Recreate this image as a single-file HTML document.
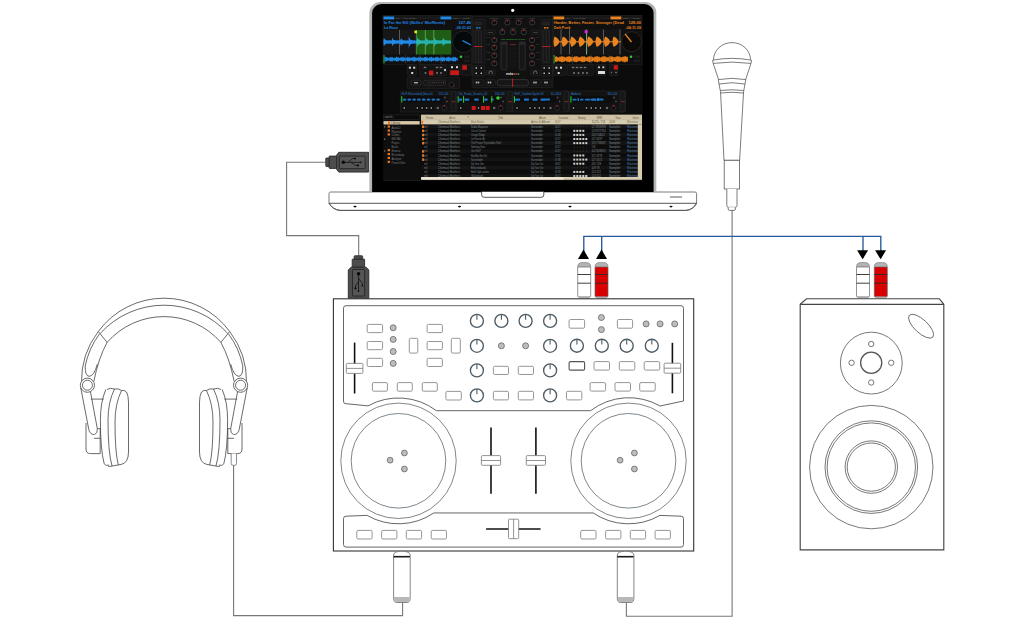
<!DOCTYPE html><html><head><meta charset="utf-8"><style>html,body{margin:0;padding:0;background:#fff;overflow:hidden}svg{display:block}text{font-family:"Liberation Sans",sans-serif}</style></head><body><svg width="1024" height="617" viewBox="0 0 1024 617">
<rect width="1024" height="617" fill="#fff"/>
<path d="M325.5,162.3 H286.6 V235.6 H358.7 V256" fill="none" stroke="#777" stroke-width="1.1"/>
<path d="M368.6,152.3 H338.8 L336.4,155.4 V169 L338.8,172.1 H368.6 Z" fill="#4d4d4d" stroke="#2a2a2a" stroke-width="0.9"/>
<rect x="329" y="156.1" width="7.5" height="12.3" rx="0.8" fill="#4d4d4d" stroke="#2a2a2a" stroke-width="0.9"/>
<rect x="325.8" y="158" width="3.2" height="8.5" rx="0.6" fill="#4d4d4d" stroke="#2a2a2a" stroke-width="0.9"/>
<rect x="339.3" y="156.1" width="25.9" height="12.5" rx="0.8" fill="#555" stroke="#262626" stroke-width="0.9"/>
<g transform="translate(352.25,162.35)"><circle cx="-8.95" cy="0" r="1.75" fill="#0a0a0a"/><path d="M-8.95,0 H8.2 M-4.3,0 L0.6,-3.85 H2.5 M-1.1,0 L3.1,3.05 H5" fill="none" stroke="#0a0a0a" stroke-width="0.7"/><circle cx="8.3" cy="0" r="0.85" fill="#0a0a0a"/><rect x="1.9" y="-4.55" width="1.8" height="1.4" rx="0.3" fill="#0a0a0a"/><circle cx="5.65" cy="3.05" r="1.05" fill="#0a0a0a"/></g>
<path d="M348.3,298.3 V270 L351.3,267 H365.8 L368.8,270 V298.3 Z" fill="#4d4d4d" stroke="#2a2a2a" stroke-width="0.9"/>
<rect x="352.2" y="259" width="12.4" height="8" rx="0.8" fill="#4d4d4d" stroke="#2a2a2a" stroke-width="0.9"/>
<rect x="354.2" y="255.8" width="8.4" height="3.2" rx="0.6" fill="#4d4d4d" stroke="#2a2a2a" stroke-width="0.9"/>
<rect x="352.5" y="269.5" width="12.1" height="26.5" rx="0.8" fill="#555" stroke="#262626" stroke-width="0.9"/>
<g transform="translate(358.55,282.75) rotate(90)"><circle cx="-8.95" cy="0" r="1.75" fill="#0a0a0a"/><path d="M-8.95,0 H8.2 M-4.3,0 L0.6,-3.85 H2.5 M-1.1,0 L3.1,3.05 H5" fill="none" stroke="#0a0a0a" stroke-width="0.7"/><circle cx="8.3" cy="0" r="0.85" fill="#0a0a0a"/><rect x="1.9" y="-4.55" width="1.8" height="1.4" rx="0.3" fill="#0a0a0a"/><circle cx="5.65" cy="3.05" r="1.05" fill="#0a0a0a"/></g>
<path d="M330.5,192 H695 Q696.6,192 696.6,193.6 V203.3 Q693,209.8 686,210.4 H340 Q333,209.8 329,203.3 V193.6 Q329,192 330.5,192 Z" fill="#fff" stroke="#7a7a7a" stroke-width="1"/>
<path d="M696.6,203.3 Q693,209.8 686,210.4 H340 Q333,209.8 329,203.3" fill="none" stroke="#555" stroke-width="1"/>
<line x1="329" y1="203.3" x2="696.6" y2="203.3" stroke="#555" stroke-width="1"/>
<path d="M369.4,192 V13 A11,11 0 0 1 380.4,1.9 H645.3 A11,11 0 0 1 656.3,12.9 V192 Z" fill="#b2b4b5"/>
<path d="M372.1,192 V13.2 A9.2,9.2 0 0 1 381.3,4 H644.4 A9.2,9.2 0 0 1 653.6,13.2 V192 Z" fill="#000"/>
<path d="M481.6,191.8 V194.8 Q481.6,197.3 484.1,197.3 H541.3 Q543.8,197.3 543.8,194.8 V191.8" fill="#fff" stroke="#444" stroke-width="0.9"/>
<line x1="670" y1="197" x2="682" y2="197" stroke="#777" stroke-width="1.2"/>
<ellipse cx="355" cy="206.6" rx="1.6" ry="0.8" fill="#000"/>
<ellipse cx="459.5" cy="206.6" rx="1.6" ry="0.8" fill="#000"/>
<ellipse cx="570" cy="206.6" rx="1.6" ry="0.8" fill="#000"/>
<ellipse cx="671" cy="206.6" rx="1.6" ry="0.8" fill="#000"/>
<circle cx="512.7" cy="10.3" r="1.6" fill="#fff"/>
<rect x="383" y="15" width="259.5" height="166" fill="#0c0c0c"/>
<rect x="383" y="15.6" width="89" height="48.6" fill="#101010" stroke="#262626" stroke-width="0.5"/>
<rect x="383.3" y="16.4" width="88" height="3.1" fill="#1b1b1b"/>
<rect x="383.4" y="16.5" width="10.8" height="2.9" fill="#2089e6"/>
<rect x="440.5" y="16.5" width="10.8" height="2.9" fill="#2089e6"/>
<text x="395.5" y="18.9" font-size="2.2" fill="#666" text-anchor="start" font-weight="normal" opacity="1" textLength="20" lengthAdjust="spacingAndGlyphs">PFL  ---  DISABLED</text>
<text x="452.5" y="18.9" font-size="2.2" fill="#666" text-anchor="start" font-weight="normal" opacity="1" textLength="17" lengthAdjust="spacingAndGlyphs">REV  - CUE</text>
<text x="384" y="23.9" font-size="4.0" fill="#2089e6" text-anchor="start" font-weight="bold" opacity="1" textLength="61" lengthAdjust="spacingAndGlyphs">In For the Kill (Skillex' Mix/Remix)</text>
<text x="471" y="23.9" font-size="4.0" fill="#2089e6" text-anchor="end" font-weight="bold" opacity="1" textLength="12.5" lengthAdjust="spacingAndGlyphs">127.46</text>
<text x="384" y="28.9" font-size="4.0" fill="#2089e6" text-anchor="start" font-weight="bold" opacity="1" textLength="14" lengthAdjust="spacingAndGlyphs">La Roux</text>
<text x="471" y="28.9" font-size="4.0" fill="#2089e6" text-anchor="end" font-weight="bold" opacity="1" textLength="15.5" lengthAdjust="spacingAndGlyphs">-09:31.63</text>
<rect x="553" y="15.6" width="89" height="48.6" fill="#101010" stroke="#262626" stroke-width="0.5"/>
<rect x="553.3" y="16.4" width="88" height="3.1" fill="#1b1b1b"/>
<rect x="553.4" y="16.5" width="10.8" height="2.9" fill="#ea8420"/>
<rect x="610.5" y="16.5" width="10.8" height="2.9" fill="#ea8420"/>
<text x="565.5" y="18.9" font-size="2.2" fill="#666" text-anchor="start" font-weight="normal" opacity="1" textLength="20" lengthAdjust="spacingAndGlyphs">PFL  ---  DISABLED</text>
<text x="622.5" y="18.9" font-size="2.2" fill="#666" text-anchor="start" font-weight="normal" opacity="1" textLength="17" lengthAdjust="spacingAndGlyphs">REV  - CUE</text>
<text x="554" y="23.9" font-size="4.0" fill="#ea8420" text-anchor="start" font-weight="bold" opacity="1" textLength="70" lengthAdjust="spacingAndGlyphs">Harder, Better, Faster, Stronger (Dead</text>
<text x="641" y="23.9" font-size="4.0" fill="#ea8420" text-anchor="end" font-weight="bold" opacity="1" textLength="12.5" lengthAdjust="spacingAndGlyphs">128.00</text>
<text x="554" y="28.9" font-size="4.0" fill="#ea8420" text-anchor="start" font-weight="bold" opacity="1" textLength="16.5" lengthAdjust="spacingAndGlyphs">Daft Punk</text>
<text x="641" y="28.9" font-size="4.0" fill="#ea8420" text-anchor="end" font-weight="bold" opacity="1" textLength="15.5" lengthAdjust="spacingAndGlyphs">-04:11.09</text>
<rect x="383.4" y="30" width="68" height="24.5" fill="#171717"/>
<rect x="416" y="30" width="35.4" height="24.5" fill="#1f5c14"/>
<line x1="399.5" y1="30" x2="399.5" y2="54.5" stroke="#888" stroke-width="0.6"/>
<line x1="416.3" y1="30" x2="416.3" y2="54.5" stroke="#5a5" stroke-width="0.6"/>
<line x1="425.3" y1="30" x2="425.3" y2="54.5" stroke="#8c8" stroke-width="0.6"/>
<line x1="433.8" y1="30" x2="433.8" y2="54.5" stroke="#8c8" stroke-width="0.6"/>
<rect x="414.4" y="30.6" width="2.6" height="2.6" fill="#eaea22"/>
<polygon points="383.4,40.41 383.9,37.73 384.4,38.69 384.9,39.23 385.4,39.66 385.9,40.11 386.4,40.47 386.9,40.26 387.4,40.15 387.9,40.21 388.4,40.44 388.9,40.62 389.4,40.34 389.9,40.20 390.4,40.26 390.9,40.49 391.4,40.59 391.9,40.32 392.4,37.40 392.9,38.66 393.4,39.59 393.9,40.02 394.4,39.99 394.9,40.02 395.4,40.19 395.9,40.49 396.4,40.50 396.9,40.26 397.4,40.19 397.9,40.31 398.4,40.58 398.9,40.50 399.4,40.26 399.9,40.20 400.4,40.34 400.9,37.96 401.4,38.94 401.9,39.37 402.4,39.70 402.9,40.07 403.4,40.48 403.9,40.34 404.4,40.18 404.9,40.18 405.4,40.37 405.9,40.67 406.4,40.41 406.9,40.22 407.4,40.22 407.9,40.41 408.4,40.68 408.9,36.03 409.4,37.70 409.9,38.79 410.4,39.61 410.9,40.17 411.4,40.08 411.9,40.05 412.4,40.16 412.9,40.42 413.4,40.59 413.9,40.32 414.4,40.19 414.9,40.26 415.4,40.50 415.9,40.58 415.9,43.42 415.4,43.50 414.9,43.74 414.4,43.81 413.9,43.68 413.4,43.41 412.9,43.58 412.4,43.84 411.9,43.95 411.4,43.92 410.9,43.83 410.4,44.39 409.9,45.21 409.4,46.30 408.9,47.97 408.4,43.32 407.9,43.59 407.4,43.78 406.9,43.78 406.4,43.59 405.9,43.33 405.4,43.63 404.9,43.82 404.4,43.82 403.9,43.66 403.4,43.52 402.9,43.93 402.4,44.30 401.9,44.63 401.4,45.06 400.9,46.04 400.4,43.66 399.9,43.80 399.4,43.74 398.9,43.50 398.4,43.42 397.9,43.69 397.4,43.81 396.9,43.74 396.4,43.50 395.9,43.51 395.4,43.81 394.9,43.98 394.4,44.01 393.9,43.98 393.4,44.41 392.9,45.34 392.4,46.60 391.9,43.68 391.4,43.41 390.9,43.51 390.4,43.74 389.9,43.80 389.4,43.66 388.9,43.38 388.4,43.56 387.9,43.79 387.4,43.85 386.9,43.74 386.4,43.53 385.9,43.89 385.4,44.34 384.9,44.77 384.4,45.31 383.9,46.27 383.4,43.59" fill="#1f8ae8"/>
<polygon points="416.0,40.57 416.5,40.52 417.0,40.27 417.5,36.51 418.0,38.20 418.5,39.37 419.0,39.78 419.5,39.85 420.0,39.97 420.5,40.21 421.0,40.56 421.5,40.41 422.0,40.22 422.5,40.20 423.0,40.37 423.5,40.66 424.0,40.43 424.5,40.23 425.0,40.22 425.5,40.40 426.0,37.21 426.5,38.38 427.0,39.06 427.5,39.56 428.0,40.04 428.5,40.44 429.0,40.25 429.5,40.14 430.0,40.20 430.5,40.43 431.0,40.62 431.5,40.34 432.0,40.20 432.5,40.26 433.0,40.48 433.5,40.60 434.0,40.33 434.5,36.89 435.0,38.37 435.5,39.42 436.0,39.93 436.5,39.94 437.0,39.99 437.5,40.17 438.0,40.48 438.5,40.50 439.0,40.26 439.5,40.19 440.0,40.31 440.5,40.57 441.0,40.50 441.5,40.27 442.0,40.20 442.5,40.33 443.0,37.48 443.5,38.67 444.0,39.21 444.5,39.61 445.0,40.01 445.5,40.44 446.0,40.33 446.5,40.17 447.0,40.18 447.5,40.36 448.0,40.66 448.5,40.41 449.0,40.22 449.5,40.22 450.0,40.41 450.5,40.69 451.0,40.39 451.0,43.61 450.5,43.31 450.0,43.59 449.5,43.78 449.0,43.78 448.5,43.59 448.0,43.34 447.5,43.64 447.0,43.82 446.5,43.83 446.0,43.67 445.5,43.56 445.0,43.99 444.5,44.39 444.0,44.79 443.5,45.33 443.0,46.52 442.5,43.67 442.0,43.80 441.5,43.73 441.0,43.50 440.5,43.43 440.0,43.69 439.5,43.81 439.0,43.74 438.5,43.50 438.0,43.52 437.5,43.83 437.0,44.01 436.5,44.06 436.0,44.07 435.5,44.58 435.0,45.63 434.5,47.11 434.0,43.67 433.5,43.40 433.0,43.52 432.5,43.74 432.0,43.80 431.5,43.66 431.0,43.38 430.5,43.57 430.0,43.80 429.5,43.86 429.0,43.75 428.5,43.56 428.0,43.96 427.5,44.44 427.0,44.94 426.5,45.62 426.0,46.79 425.5,43.60 425.0,43.78 424.5,43.77 424.0,43.57 423.5,43.34 423.0,43.63 422.5,43.80 422.0,43.78 421.5,43.59 421.0,43.44 420.5,43.79 420.0,44.03 419.5,44.15 419.0,44.22 418.5,44.63 418.0,45.80 417.5,47.49 417.0,43.73 416.5,43.48 416.0,43.43" fill="#27b4b0"/>
<circle cx="463.5" cy="41.8" r="10.8" fill="#06090c" stroke="#2a2a2a" stroke-width="0.8"/>
<line x1="462.5" y1="40.6" x2="471" y2="45" stroke="#1f86e0" stroke-width="1.3"/>
<rect x="383.4" y="55" width="75" height="8.6" fill="#101010"/>
<rect x="383.5" y="55" width="1" height="8.4" fill="#2c2"/>
<polygon points="384.6,57.58 385.1,56.62 385.6,56.75 386.1,57.53 386.6,57.44 387.1,56.75 387.6,57.64 388.1,58.33 388.6,57.89 389.1,57.08 389.6,57.73 390.1,57.67 390.6,56.74 391.1,56.67 391.6,57.49 392.1,57.44 392.6,56.70 393.1,57.45 393.6,58.21 394.1,58.07 394.6,57.16 395.1,57.76 395.6,57.76 396.1,56.87 396.6,56.61 397.1,57.45 397.6,57.45 398.1,56.68 398.6,57.26 399.1,58.10 399.6,58.04 400.1,57.26 400.6,57.79 401.1,57.86 401.6,57.03 402.1,56.57 402.6,57.41 403.1,57.46 403.6,56.68 404.1,57.08 404.6,57.99 405.1,58.00 405.6,57.38 406.1,57.82 406.6,57.95 407.1,57.19 407.6,56.56 408.1,57.38 408.6,57.47 409.1,56.70 409.6,56.91 410.1,57.88 410.6,57.96 411.1,57.34 411.6,57.84 412.1,58.06 412.6,57.37 413.1,56.58 413.6,57.35 414.1,57.48 414.6,56.75 415.1,56.76 415.6,57.77 416.1,57.91 416.6,57.27 417.1,57.86 417.6,58.16 418.1,57.55 418.6,56.62 419.1,57.31 419.6,57.50 420.1,56.82 420.6,56.64 421.1,57.66 421.6,57.85 422.1,57.21 422.6,57.79 423.1,58.27 423.6,57.73 424.1,56.70 424.6,57.29 425.1,57.53 425.6,56.90 426.1,56.53 426.6,57.55 427.1,57.80 427.6,57.17 428.1,57.58 428.6,58.38 429.1,57.91 429.6,56.80 430.1,57.26 430.6,57.56 431.1,57.00 431.6,56.46 432.1,57.44 432.6,57.74 433.1,57.15 433.6,57.38 434.1,58.46 434.6,58.08 435.1,56.93 435.6,57.25 436.1,57.61 436.6,57.11 437.1,56.41 437.6,57.33 438.1,57.68 438.6,57.14 439.1,57.19 439.6,58.32 440.1,58.25 440.6,57.08 441.1,57.24 441.6,57.67 442.1,57.22 442.6,56.40 443.1,57.22 443.6,57.62 444.1,57.15 444.6,57.02 445.1,58.17 445.6,58.40 446.1,57.26 446.6,57.23 447.1,57.73 447.6,57.34 448.1,56.42 448.6,57.12 449.1,57.57 449.6,57.17 450.1,56.87 450.6,58.01 451.1,58.38 451.6,57.45 452.1,57.25 452.6,57.80 453.1,57.47 453.6,56.47 454.1,57.02 454.6,57.54 455.1,57.19 455.6,56.74 456.1,57.84 456.6,58.29 457.1,57.65 457.6,57.27 457.6,61.13 457.1,60.75 456.6,60.11 456.1,60.56 455.6,61.66 455.1,61.21 454.6,60.86 454.1,61.38 453.6,61.93 453.1,60.93 452.6,60.60 452.1,61.15 451.6,60.95 451.1,60.02 450.6,60.39 450.1,61.53 449.6,61.23 449.1,60.83 448.6,61.28 448.1,61.98 447.6,61.06 447.1,60.67 446.6,61.17 446.1,61.14 445.6,60.00 445.1,60.23 444.6,61.38 444.1,61.25 443.6,60.78 443.1,61.18 442.6,62.00 442.1,61.18 441.6,60.73 441.1,61.16 440.6,61.32 440.1,60.15 439.6,60.08 439.1,61.21 438.6,61.26 438.1,60.72 437.6,61.07 437.1,61.99 436.6,61.29 436.1,60.79 435.6,61.15 435.1,61.47 434.6,60.32 434.1,59.94 433.6,61.02 433.1,61.25 432.6,60.66 432.1,60.96 431.6,61.94 431.1,61.40 430.6,60.84 430.1,61.14 429.6,61.60 429.1,60.49 428.6,60.02 428.1,60.82 427.6,61.23 427.1,60.60 426.6,60.85 426.1,61.87 425.6,61.50 425.1,60.87 424.6,61.11 424.1,61.70 423.6,60.67 423.1,60.13 422.6,60.61 422.1,61.19 421.6,60.55 421.1,60.74 420.6,61.76 420.1,61.58 419.6,60.90 419.1,61.09 418.6,61.78 418.1,60.85 417.6,60.24 417.1,60.54 416.6,61.13 416.1,60.49 415.6,60.63 415.1,61.64 414.6,61.65 414.1,60.92 413.6,61.05 413.1,61.82 412.6,61.03 412.1,60.34 411.6,60.56 411.1,61.06 410.6,60.44 410.1,60.52 409.6,61.49 409.1,61.70 408.6,60.93 408.1,61.02 407.6,61.84 407.1,61.21 406.6,60.45 406.1,60.58 405.6,61.02 405.1,60.40 404.6,60.41 404.1,61.32 403.6,61.72 403.1,60.94 402.6,60.99 402.1,61.83 401.6,61.37 401.1,60.54 400.6,60.61 400.1,61.14 399.6,60.36 399.1,60.30 398.6,61.14 398.1,61.72 397.6,60.95 397.1,60.95 396.6,61.79 396.1,61.53 395.6,60.64 395.1,60.64 394.6,61.24 394.1,60.33 393.6,60.19 393.1,60.95 392.6,61.70 392.1,60.96 391.6,60.91 391.1,61.73 390.6,61.66 390.1,60.73 389.6,60.67 389.1,61.32 388.6,60.51 388.1,60.07 387.6,60.76 387.1,61.65 386.6,60.96 386.1,60.87 385.6,61.65 385.1,61.78 384.6,60.82" fill="#1f86e0"/>
<line x1="405.5" y1="55" x2="405.5" y2="63.5" stroke="#555" stroke-width="0.5"/>
<line x1="420" y1="55" x2="420" y2="63.5" stroke="#555" stroke-width="0.5"/>
<line x1="441" y1="55" x2="441" y2="63.5" stroke="#555" stroke-width="0.5"/>
<circle cx="461" cy="56.8" r="1.3" fill="#3c3"/>
<circle cx="465.5" cy="56.8" r="1" fill="none" stroke="#3a3a3a" stroke-width="0.4"/>
<circle cx="468.5" cy="56.8" r="1" fill="none" stroke="#3a3a3a" stroke-width="0.4"/>
<circle cx="465.5" cy="60.8" r="1" fill="none" stroke="#3a3a3a" stroke-width="0.4"/>
<circle cx="468.5" cy="60.8" r="1" fill="none" stroke="#3a3a3a" stroke-width="0.4"/>
<rect x="553.4" y="29.5" width="68" height="25" fill="#151515"/>
<line x1="561" y1="29.5" x2="561" y2="54.5" stroke="#7a7a7a" stroke-width="0.7"/>
<line x1="569.5" y1="29.5" x2="569.5" y2="54.5" stroke="#7a7a7a" stroke-width="0.7"/>
<line x1="603.5" y1="29.5" x2="603.5" y2="54.5" stroke="#7a7a7a" stroke-width="0.7"/>
<line x1="620" y1="29.5" x2="620" y2="54.5" stroke="#7a7a7a" stroke-width="0.7"/>
<line x1="586.6" y1="29.5" x2="586.6" y2="54.5" stroke="#8c8" stroke-width="0.9"/>
<rect x="584.6" y="30.2" width="3" height="3" fill="#e222e2"/>
<polygon points="553.4,41.20 553.9,37.88 554.4,36.76 554.9,36.62 555.4,36.92 555.9,37.24 556.4,37.58 556.9,37.95 557.4,38.36 557.9,38.83 558.4,39.38 558.9,40.14 559.4,41.20 559.9,41.20 560.4,41.20 560.9,41.20 561.4,41.20 561.9,40.10 562.4,37.74 562.9,36.67 563.4,36.65 563.9,36.95 564.4,37.27 564.9,37.62 565.4,37.99 565.9,38.41 566.4,38.88 566.9,39.45 567.4,40.24 567.9,41.20 568.4,41.20 568.9,41.20 569.4,41.20 569.9,41.20 570.4,39.66 570.9,37.60 571.4,36.59 571.9,36.68 572.4,36.98 572.9,37.31 573.4,37.65 573.9,38.03 574.4,38.45 574.9,38.93 575.4,39.51 575.9,40.35 576.4,41.20 576.9,41.20 577.4,41.20 577.9,41.20 578.4,41.20 578.9,39.32 579.4,37.48 579.9,36.52 580.4,36.71 580.9,37.01 581.4,37.34 581.9,37.69 582.4,38.07 582.9,38.50 583.4,38.98 583.9,39.58 584.4,40.48 584.9,41.20 585.4,41.20 585.9,41.20 586.4,41.20 586.9,41.20 587.4,39.04 587.9,37.36 588.4,36.45 588.9,36.74 589.4,37.05 589.9,37.37 590.4,37.73 590.9,38.11 591.4,38.54 591.9,39.04 592.4,39.65 592.9,40.62 593.4,41.20 593.9,41.20 594.4,41.20 594.9,41.20 595.4,41.20 595.9,38.79 596.4,37.24 596.9,36.47 597.4,36.77 597.9,37.08 598.4,37.41 598.9,37.76 599.4,38.15 599.9,38.59 600.4,39.09 600.9,39.72 601.4,40.80 601.9,41.20 602.4,41.20 602.9,41.20 603.4,41.20 603.9,41.20 604.4,38.58 604.9,37.14 605.4,36.50 605.9,36.80 606.4,37.11 606.9,37.44 607.4,37.80 607.9,38.19 608.4,38.63 608.9,39.15 609.4,39.80 609.9,41.20 610.4,41.20 610.9,41.20 611.4,41.20 611.9,41.20 612.4,41.20 612.9,38.38 613.4,37.03 613.9,36.53 614.4,36.83 614.9,37.14 615.4,37.48 615.9,37.84 616.4,38.23 616.9,38.68 617.4,39.20 617.9,39.88 618.4,41.20 618.9,41.20 619.4,41.20 619.9,41.20 620.4,41.20 620.9,41.20 620.9,42.20 620.4,42.20 619.9,42.20 619.4,42.20 618.9,42.20 618.4,42.20 617.9,43.52 617.4,44.20 616.9,44.72 616.4,45.17 615.9,45.56 615.4,45.92 614.9,46.26 614.4,46.57 613.9,46.87 613.4,46.37 612.9,45.02 612.4,42.20 611.9,42.20 611.4,42.20 610.9,42.20 610.4,42.20 609.9,42.20 609.4,43.60 608.9,44.25 608.4,44.77 607.9,45.21 607.4,45.60 606.9,45.96 606.4,46.29 605.9,46.60 605.4,46.90 604.9,46.26 604.4,44.82 603.9,42.20 603.4,42.20 602.9,42.20 602.4,42.20 601.9,42.20 601.4,42.60 600.9,43.68 600.4,44.31 599.9,44.81 599.4,45.25 598.9,45.64 598.4,45.99 597.9,46.32 597.4,46.63 596.9,46.93 596.4,46.16 595.9,44.61 595.4,42.20 594.9,42.20 594.4,42.20 593.9,42.20 593.4,42.20 592.9,42.78 592.4,43.75 591.9,44.36 591.4,44.86 590.9,45.29 590.4,45.67 589.9,46.03 589.4,46.35 588.9,46.66 588.4,46.95 587.9,46.04 587.4,44.36 586.9,42.20 586.4,42.20 585.9,42.20 585.4,42.20 584.9,42.20 584.4,42.92 583.9,43.82 583.4,44.42 582.9,44.90 582.4,45.33 581.9,45.71 581.4,46.06 580.9,46.39 580.4,46.69 579.9,46.88 579.4,45.92 578.9,44.08 578.4,42.20 577.9,42.20 577.4,42.20 576.9,42.20 576.4,42.20 575.9,43.05 575.4,43.89 574.9,44.47 574.4,44.95 573.9,45.37 573.4,45.75 572.9,46.09 572.4,46.42 571.9,46.72 571.4,46.81 570.9,45.80 570.4,43.74 569.9,42.20 569.4,42.20 568.9,42.20 568.4,42.20 567.9,42.20 567.4,43.16 566.9,43.95 566.4,44.52 565.9,44.99 565.4,45.41 564.9,45.78 564.4,46.13 563.9,46.45 563.4,46.75 562.9,46.73 562.4,45.66 561.9,43.30 561.4,42.20 560.9,42.20 560.4,42.20 559.9,42.20 559.4,42.20 558.9,43.26 558.4,44.02 557.9,44.57 557.4,45.04 556.9,45.45 556.4,45.82 555.9,46.16 555.4,46.48 554.9,46.78 554.4,46.64 553.9,45.52 553.4,42.20" fill="#ea8420"/>
<circle cx="631.5" cy="41.7" r="10" fill="#0c0a07" stroke="#2b2b2b" stroke-width="0.8"/>
<line x1="625" y1="33.8" x2="631.5" y2="42" stroke="#ea8420" stroke-width="1.3"/>
<rect x="553.4" y="55" width="75" height="8.6" fill="#101010"/>
<rect x="553.6" y="55" width="1" height="8.4" fill="#2c2"/>
<polygon points="555.0,56.03 555.5,56.81 556.0,56.38 556.5,56.10 557.0,57.08 557.5,57.22 558.0,56.74 558.5,57.57 559.0,57.68 559.5,56.62 560.0,56.54 560.5,57.06 561.0,56.30 561.5,55.91 562.0,56.69 562.5,56.50 563.0,55.92 563.5,56.71 564.0,57.16 564.5,56.57 565.0,57.10 565.5,57.99 566.0,57.04 566.5,56.59 567.0,57.18 567.5,56.66 568.0,55.92 568.5,56.55 569.0,56.65 569.5,55.88 570.0,56.36 570.5,57.06 571.0,56.51 571.5,56.67 572.0,57.71 572.5,57.51 573.0,56.73 573.5,57.25 574.0,57.03 574.5,56.07 575.0,56.42 575.5,56.79 576.0,55.99 576.5,56.07 577.0,56.92 577.5,56.53 578.0,56.32 578.5,57.35 579.0,57.49 579.5,56.98 580.0,57.29 580.5,57.39 581.0,56.36 581.5,56.34 582.0,56.90 582.5,56.20 583.0,55.88 583.5,56.73 584.0,56.60 584.5,56.08 585.0,56.94 585.5,57.41 586.0,56.85 586.5,57.33 587.0,57.69 587.5,56.75 588.0,56.35 588.5,56.97 589.0,56.49 589.5,55.83 590.0,56.53 590.5,56.69 591.0,55.99 591.5,56.54 592.0,57.28 592.5,56.76 593.0,56.96 593.5,57.92 594.0,57.20 594.5,56.46 595.0,57.01 595.5,56.82 596.0,55.92 596.5,56.34 597.0,56.77 597.5,56.02 598.0,56.19 598.5,57.09 599.0,56.74 599.5,56.58 600.0,57.64 600.5,57.67 601.0,56.68 601.5,57.02 602.0,57.14 602.5,56.15 603.0,56.20 603.5,56.82 604.0,56.17 604.5,55.93 605.0,56.85 605.5,56.76 606.0,56.30 606.5,57.21 607.0,57.69 607.5,57.01 608.0,57.05 608.5,57.42 609.0,56.50 609.5,56.15 610.0,56.83 610.5,56.40 611.0,55.81 611.5,56.58 612.0,56.79 612.5,56.15 613.0,56.77 613.5,57.54 614.0,57.04 614.5,57.11 615.0,57.63 615.5,56.92 616.0,56.22 616.5,56.81 617.0,56.67 617.5,55.83 618.0,56.33 618.5,56.81 619.0,56.13 619.5,56.37 620.0,57.31 620.5,56.99 621.0,56.87 621.5,57.77 622.0,57.36 622.5,56.40 623.0,56.79 623.5,56.94 624.0,56.00 624.5,56.13 625.0,56.80 625.5,56.21 626.0,56.05 626.5,57.03 627.0,56.98 627.5,56.57 628.0,57.50 628.0,60.90 627.5,61.83 627.0,61.42 626.5,61.37 626.0,62.35 625.5,62.19 625.0,61.60 624.5,62.27 624.0,62.40 623.5,61.46 623.0,61.61 622.5,62.00 622.0,61.04 621.5,60.63 621.0,61.53 620.5,61.41 620.0,61.09 619.5,62.03 619.0,62.27 618.5,61.59 618.0,62.07 617.5,62.57 617.0,61.73 616.5,61.59 616.0,62.18 615.5,61.48 615.0,60.77 614.5,61.29 614.0,61.36 613.5,60.86 613.0,61.63 612.5,62.25 612.0,61.61 611.5,61.82 611.0,62.59 610.5,62.00 610.0,61.57 609.5,62.25 609.0,61.90 608.5,60.98 608.0,61.35 607.5,61.39 607.0,60.71 606.5,61.19 606.0,62.10 605.5,61.64 605.0,61.55 604.5,62.47 604.0,62.23 603.5,61.58 603.0,62.20 602.5,62.25 602.0,61.26 601.5,61.38 601.0,61.72 600.5,60.73 600.0,60.76 599.5,61.82 599.0,61.66 598.5,61.31 598.0,62.21 597.5,62.38 597.0,61.63 596.5,62.06 596.0,62.48 595.5,61.58 595.0,61.39 594.5,61.94 594.0,61.20 593.5,60.48 593.0,61.44 592.5,61.64 592.0,61.12 591.5,61.86 591.0,62.41 590.5,61.71 590.0,61.87 589.5,62.57 589.0,61.91 588.5,61.43 588.0,62.05 587.5,61.65 587.0,60.71 586.5,61.07 586.0,61.55 585.5,60.99 585.0,61.46 584.5,62.32 584.0,61.80 583.5,61.67 583.0,62.52 582.5,62.20 582.0,61.50 581.5,62.06 581.0,62.04 580.5,61.01 580.0,61.11 579.5,61.42 579.0,60.91 578.5,61.05 578.0,62.08 577.5,61.87 577.0,61.48 576.5,62.33 576.0,62.41 575.5,61.61 575.0,61.98 574.5,62.33 574.0,61.37 573.5,61.15 573.0,61.67 572.5,60.89 572.0,60.69 571.5,61.73 571.0,61.89 570.5,61.34 570.0,62.04 569.5,62.52 569.0,61.75 568.5,61.85 568.0,62.48 567.5,61.74 567.0,61.22 566.5,61.81 566.0,61.36 565.5,60.41 565.0,61.30 564.5,61.83 564.0,61.24 563.5,61.69 563.0,62.48 562.5,61.90 562.0,61.71 561.5,62.49 561.0,62.10 560.5,61.34 560.0,61.86 559.5,61.78 559.0,60.72 558.5,60.83 558.0,61.66 557.5,61.18 557.0,61.32 556.5,62.30 556.0,62.02 555.5,61.59 555.0,62.37" fill="#e07a18"/>
<line x1="572.5" y1="55" x2="572.5" y2="63.5" stroke="#555" stroke-width="0.5"/>
<line x1="591" y1="55" x2="591" y2="63.5" stroke="#555" stroke-width="0.5"/>
<line x1="610" y1="55" x2="610" y2="63.5" stroke="#555" stroke-width="0.5"/>
<circle cx="631" cy="56.8" r="1.3" fill="#3c3"/>
<circle cx="635.5" cy="56.8" r="1" fill="none" stroke="#3a3a3a" stroke-width="0.4"/>
<circle cx="638.5" cy="56.8" r="1" fill="none" stroke="#3a3a3a" stroke-width="0.4"/>
<circle cx="635.5" cy="60.8" r="1" fill="none" stroke="#3a3a3a" stroke-width="0.4"/>
<circle cx="638.5" cy="60.8" r="1" fill="none" stroke="#3a3a3a" stroke-width="0.4"/>
<rect x="472.2" y="16.1" width="80.6" height="71.6" rx="1.5" fill="#111" stroke="#2e2e2e" stroke-width="0.6"/>
<rect x="473.3" y="19.5" width="11.5" height="43.5" rx="1" fill="#141414" stroke="#2c2c2c" stroke-width="0.5"/>
<rect x="475.1" y="22" width="6.5" height="2.9" rx="0.5" fill="#1e1e1e" stroke="#444" stroke-width="0.3"/>
<rect x="475.3" y="26.6" width="6" height="2.4" fill="#1a1a1a"/>
<rect x="476.1" y="27.1" width="1.8" height="1.4" fill="#2089e6"/>
<rect x="478.7" y="27.1" width="1.8" height="1.4" fill="#2089e6"/>
<rect x="475.3" y="30" width="6" height="32" rx="0.6" fill="#171717" stroke="#3a3a3a" stroke-width="0.5"/>
<rect x="477.90000000000003" y="31" width="0.8" height="30" fill="#2a2a2a"/>
<rect x="474.1" y="46" width="8.5" height="1" fill="#a22"/>
<rect x="473.5" y="65.5" width="11.100000000000023" height="10.5" rx="1.2" fill="#141414" stroke="#2c2c2c" stroke-width="0.5"/>
<circle cx="476.3" cy="68" r="1.6" fill="#0a0a0a"/>
<rect x="475.55" y="67.25" width="1.5" height="1.5" fill="#ccc"/>
<circle cx="481.3" cy="68" r="1.6" fill="#0a0a0a"/>
<rect x="480.55" y="67.25" width="1.5" height="1.5" fill="#ccc"/>
<circle cx="476.3" cy="73.3" r="1.6" fill="#0a0a0a"/>
<rect x="475.55" y="72.55" width="1.5" height="1.5" fill="#ccc"/>
<circle cx="481.3" cy="73.3" r="1.6" fill="#0a0a0a"/>
<rect x="480.55" y="72.55" width="1.5" height="1.5" fill="#ccc"/>
<rect x="473.5" y="79.4" width="10.300000000000011" height="6.299999999999997" rx="1.2" fill="#141414" stroke="#2c2c2c" stroke-width="0.5"/>
<rect x="541.2" y="19.5" width="11.5" height="43.5" rx="1" fill="#141414" stroke="#2c2c2c" stroke-width="0.5"/>
<rect x="543.0" y="22" width="6.5" height="2.9" rx="0.5" fill="#1e1e1e" stroke="#444" stroke-width="0.3"/>
<rect x="543.2" y="26.6" width="6" height="2.4" fill="#1a1a1a"/>
<rect x="544.0" y="27.1" width="1.8" height="1.4" fill="#ea8420"/>
<rect x="546.6" y="27.1" width="1.8" height="1.4" fill="#ea8420"/>
<rect x="543.2" y="30" width="6" height="32" rx="0.6" fill="#171717" stroke="#3a3a3a" stroke-width="0.5"/>
<rect x="545.8000000000001" y="31" width="0.8" height="30" fill="#2a2a2a"/>
<rect x="542.0" y="46" width="8.5" height="1" fill="#a22"/>
<rect x="541.4000000000001" y="65.5" width="11.099999999999909" height="10.5" rx="1.2" fill="#141414" stroke="#2c2c2c" stroke-width="0.5"/>
<circle cx="544.2" cy="68" r="1.6" fill="#0a0a0a"/>
<rect x="543.45" y="67.25" width="1.5" height="1.5" fill="#ccc"/>
<circle cx="549.2" cy="68" r="1.6" fill="#0a0a0a"/>
<rect x="548.45" y="67.25" width="1.5" height="1.5" fill="#ccc"/>
<circle cx="544.2" cy="73.3" r="1.6" fill="#0a0a0a"/>
<rect x="543.45" y="72.55" width="1.5" height="1.5" fill="#ccc"/>
<circle cx="549.2" cy="73.3" r="1.6" fill="#0a0a0a"/>
<rect x="548.45" y="72.55" width="1.5" height="1.5" fill="#ccc"/>
<rect x="541.4000000000001" y="79.4" width="10.299999999999955" height="6.299999999999997" rx="1.2" fill="#141414" stroke="#2c2c2c" stroke-width="0.5"/>
<circle cx="494.4" cy="22.4" r="2.6" fill="#0b0b0b" stroke="#555" stroke-width="0.6"/>
<circle cx="494.4" cy="20.9" r="0.75" fill="#e02020"/>
<circle cx="507.4" cy="22.4" r="2.6" fill="#0b0b0b" stroke="#555" stroke-width="0.6"/>
<circle cx="507.4" cy="20.9" r="0.75" fill="#e02020"/>
<circle cx="518.6" cy="22.4" r="2.6" fill="#0b0b0b" stroke="#555" stroke-width="0.6"/>
<circle cx="518.6" cy="20.9" r="0.75" fill="#e02020"/>
<circle cx="532.2" cy="22.4" r="2.6" fill="#0b0b0b" stroke="#555" stroke-width="0.6"/>
<circle cx="532.2" cy="20.9" r="0.75" fill="#e02020"/>
<circle cx="502.4" cy="32.1" r="2.6" fill="#0b0b0b" stroke="#555" stroke-width="0.6"/>
<circle cx="502.4" cy="30.6" r="0.75" fill="#e02020"/>
<circle cx="513" cy="32.1" r="2.6" fill="#0b0b0b" stroke="#555" stroke-width="0.6"/>
<circle cx="513" cy="30.6" r="0.75" fill="#e02020"/>
<circle cx="523.8" cy="32.1" r="2.6" fill="#0b0b0b" stroke="#555" stroke-width="0.6"/>
<circle cx="523.8" cy="30.6" r="0.75" fill="#e02020"/>
<circle cx="494.3" cy="40" r="2.6" fill="#0b0b0b" stroke="#555" stroke-width="0.6"/>
<circle cx="494.3" cy="38.5" r="0.75" fill="#e02020"/>
<circle cx="494.3" cy="47.6" r="2.6" fill="#0b0b0b" stroke="#555" stroke-width="0.6"/>
<circle cx="494.3" cy="46.1" r="0.75" fill="#e02020"/>
<circle cx="494.3" cy="55.5" r="2.6" fill="#0b0b0b" stroke="#555" stroke-width="0.6"/>
<circle cx="494.3" cy="54.0" r="0.75" fill="#e02020"/>
<circle cx="494.3" cy="63.4" r="2.6" fill="#0b0b0b" stroke="#555" stroke-width="0.6"/>
<circle cx="494.3" cy="61.9" r="0.75" fill="#e02020"/>
<circle cx="532" cy="40" r="2.6" fill="#0b0b0b" stroke="#555" stroke-width="0.6"/>
<circle cx="532" cy="38.5" r="0.75" fill="#e02020"/>
<circle cx="532" cy="47.6" r="2.6" fill="#0b0b0b" stroke="#555" stroke-width="0.6"/>
<circle cx="532" cy="46.1" r="0.75" fill="#e02020"/>
<circle cx="532" cy="55.5" r="2.6" fill="#0b0b0b" stroke="#555" stroke-width="0.6"/>
<circle cx="532" cy="54.0" r="0.75" fill="#e02020"/>
<circle cx="532" cy="63.4" r="2.6" fill="#0b0b0b" stroke="#555" stroke-width="0.6"/>
<circle cx="532" cy="61.9" r="0.75" fill="#e02020"/>
<rect x="486" y="30" width="9.199999999999989" height="4.600000000000001" rx="1.2" fill="#141414" stroke="#2c2c2c" stroke-width="0.5"/>
<rect x="530.9" y="30" width="9.300000000000068" height="4.600000000000001" rx="1.2" fill="#141414" stroke="#2c2c2c" stroke-width="0.5"/>
<text x="490.6" y="33.3" font-size="2.4" fill="#bbb" text-anchor="middle" font-weight="normal" opacity="1" textLength="4.5" lengthAdjust="spacingAndGlyphs">X/X</text>
<text x="535.5" y="33.3" font-size="2.4" fill="#bbb" text-anchor="middle" font-weight="normal" opacity="1" textLength="4.5" lengthAdjust="spacingAndGlyphs">X/X</text>
<text x="494" y="18.8" font-size="1.9" fill="#666" text-anchor="middle" font-weight="normal" opacity="1" textLength="9" lengthAdjust="spacingAndGlyphs">BASS  MID</text>
<text x="507.5" y="18.8" font-size="1.9" fill="#666" text-anchor="middle" font-weight="normal" opacity="1" textLength="7" lengthAdjust="spacingAndGlyphs">HIGH PFL</text>
<text x="519" y="18.8" font-size="1.9" fill="#666" text-anchor="middle" font-weight="normal" opacity="1" textLength="7" lengthAdjust="spacingAndGlyphs">BALANCE</text>
<text x="532" y="18.8" font-size="1.9" fill="#666" text-anchor="middle" font-weight="normal" opacity="1" textLength="6" lengthAdjust="spacingAndGlyphs">Ch EQ</text>
<text x="502.4" y="28.5" font-size="1.9" fill="#666" text-anchor="middle" font-weight="normal" opacity="1" textLength="3" lengthAdjust="spacingAndGlyphs">PFL</text>
<text x="513" y="28.5" font-size="1.9" fill="#666" text-anchor="middle" font-weight="normal" opacity="1" textLength="5" lengthAdjust="spacingAndGlyphs">MASTER</text>
<text x="523.8" y="28.5" font-size="1.9" fill="#666" text-anchor="middle" font-weight="normal" opacity="1" textLength="5" lengthAdjust="spacingAndGlyphs">HD MIX</text>
<text x="488.5" y="37.5" font-size="1.7" fill="#555" text-anchor="middle" font-weight="normal" opacity="1" textLength="4" lengthAdjust="spacingAndGlyphs">GAIN</text>
<text x="488.5" y="45" font-size="1.7" fill="#555" text-anchor="middle" font-weight="normal" opacity="1" textLength="4" lengthAdjust="spacingAndGlyphs">HIGH</text>
<text x="488.5" y="52.5" font-size="1.7" fill="#555" text-anchor="middle" font-weight="normal" opacity="1" textLength="4" lengthAdjust="spacingAndGlyphs">MID</text>
<text x="488.5" y="60" font-size="1.7" fill="#555" text-anchor="middle" font-weight="normal" opacity="1" textLength="4" lengthAdjust="spacingAndGlyphs">LOW</text>
<text x="537.5" y="37.5" font-size="1.7" fill="#555" text-anchor="middle" font-weight="normal" opacity="1" textLength="4" lengthAdjust="spacingAndGlyphs">GAIN</text>
<text x="537.5" y="45" font-size="1.7" fill="#555" text-anchor="middle" font-weight="normal" opacity="1" textLength="4" lengthAdjust="spacingAndGlyphs">HIGH</text>
<text x="537.5" y="52.5" font-size="1.7" fill="#555" text-anchor="middle" font-weight="normal" opacity="1" textLength="4" lengthAdjust="spacingAndGlyphs">MID</text>
<text x="537.5" y="60" font-size="1.7" fill="#555" text-anchor="middle" font-weight="normal" opacity="1" textLength="4" lengthAdjust="spacingAndGlyphs">LOW</text>
<text x="513" y="40" font-size="2.3" fill="#39c639" text-anchor="middle" font-weight="normal" opacity="1" textLength="24" lengthAdjust="spacingAndGlyphs">ooo ooooo oo o ooo</text>
<rect x="501" y="42" width="6" height="27.7" rx="1" fill="#161616" stroke="#444" stroke-width="0.5"/>
<rect x="500.5" y="42.3" width="7" height="2.5" rx="0.5" fill="#2a2a2a"/>
<rect x="519.2" y="42" width="6" height="27.7" rx="1" fill="#161616" stroke="#444" stroke-width="0.5"/>
<rect x="518.7" y="42.3" width="7" height="2.5" rx="0.5" fill="#2a2a2a"/>
<rect x="508.5" y="43" width="9" height="26" fill="#131313"/>
<line x1="509.5" y1="45" x2="516.5" y2="45" stroke="#222" stroke-width="0.4"/>
<line x1="509.5" y1="49" x2="516.5" y2="49" stroke="#222" stroke-width="0.4"/>
<line x1="509.5" y1="53" x2="516.5" y2="53" stroke="#222" stroke-width="0.4"/>
<line x1="509.5" y1="57" x2="516.5" y2="57" stroke="#222" stroke-width="0.4"/>
<line x1="509.5" y1="61" x2="516.5" y2="61" stroke="#222" stroke-width="0.4"/>
<line x1="509.5" y1="65" x2="516.5" y2="65" stroke="#222" stroke-width="0.4"/>
<rect x="510" y="44" width="6" height="0.8" fill="#822"/>
<rect x="486" y="70.2" width="9.399999999999977" height="5.0" rx="1.2" fill="#141414" stroke="#2c2c2c" stroke-width="0.5"/>
<rect x="530.6" y="70.2" width="9.399999999999977" height="5.0" rx="1.2" fill="#141414" stroke="#2c2c2c" stroke-width="0.5"/>
<text x="506" y="75.2" font-size="3.4" fill="#e8e8e8" text-anchor="start" font-weight="bold" opacity="1" textLength="7.5" lengthAdjust="spacingAndGlyphs">mix</text>
<text x="513.5" y="75.2" font-size="3.4" fill="#e07020" text-anchor="start" font-weight="bold" opacity="1" textLength="2" lengthAdjust="spacingAndGlyphs">x</text>
<text x="515.5" y="75.2" font-size="3.4" fill="#c040c0" text-anchor="start" font-weight="bold" opacity="1" textLength="2" lengthAdjust="spacingAndGlyphs">x</text>
<text x="517.5" y="75.2" font-size="3.4" fill="#40c040" text-anchor="start" font-weight="bold" opacity="1" textLength="2" lengthAdjust="spacingAndGlyphs">x</text>
<path d="M489.09999999999997,74 V72.6 A1.6,1.6 0 0 1 492.3,72.6 V74" fill="none" stroke="#bbb" stroke-width="0.5"/>
<path d="M533.6999999999999,74 V72.6 A1.6,1.6 0 0 1 536.9,72.6 V74" fill="none" stroke="#bbb" stroke-width="0.5"/>
<rect x="486" y="79.4" width="9.5" height="6.299999999999997" rx="1.2" fill="#141414" stroke="#2c2c2c" stroke-width="0.5"/>
<rect x="531" y="79.4" width="9.299999999999955" height="6.299999999999997" rx="1.2" fill="#141414" stroke="#2c2c2c" stroke-width="0.5"/>
<rect x="497.3" y="79.6" width="31.1" height="6.2" rx="2" fill="#161616" stroke="#444" stroke-width="0.6"/>
<rect x="512.2" y="78.5" width="0.9" height="8.4" fill="#c22"/>
<rect x="475.75" y="81.6" width="1.5" height="1.8" fill="#bbb"/>
<rect x="477.75" y="81.6" width="1.5" height="1.8" fill="#bbb"/>
<rect x="487.75" y="81.6" width="1.5" height="1.8" fill="#bbb"/>
<rect x="489.75" y="81.6" width="1.5" height="1.8" fill="#bbb"/>
<rect x="533.25" y="81.6" width="1.5" height="1.8" fill="#bbb"/>
<rect x="535.25" y="81.6" width="1.5" height="1.8" fill="#bbb"/>
<rect x="544.25" y="81.6" width="1.5" height="1.8" fill="#bbb"/>
<rect x="546.25" y="81.6" width="1.5" height="1.8" fill="#bbb"/>
<rect x="407.3" y="64.8" width="9.5" height="10.600000000000009" rx="1.2" fill="#141414" stroke="#2c2c2c" stroke-width="0.5"/>
<rect x="408.9" y="66.7" width="2" height="2" fill="#d8d8d8"/>
<rect x="413.2" y="66.7" width="2" height="2" fill="#d8d8d8"/>
<rect x="411.2" y="72.0" width="2" height="2" fill="#d8d8d8"/>
<rect x="419.4" y="64.8" width="27.5" height="10.600000000000009" rx="1.2" fill="#141414" stroke="#2c2c2c" stroke-width="0.5"/>
<rect x="428.9" y="70.6" width="4.4" height="4.6" fill="#c81818"/>
<rect x="423.75" y="66.8" width="2.5" height="1.4" fill="#777"/>
<rect x="435.75" y="66.8" width="2.5" height="1.4" fill="#777"/>
<rect x="439.75" y="66.8" width="2.5" height="1.4" fill="#777"/>
<rect x="424.7" y="72.2" width="1.6" height="1.6" fill="#888"/>
<rect x="436.2" y="72.2" width="1.6" height="1.6" fill="#888"/>
<rect x="440.2" y="72.2" width="1.6" height="1.6" fill="#888"/>
<rect x="444.1" y="68.9" width="1.8" height="2.2" fill="#ccc"/>
<rect x="449.2" y="64.8" width="11.0" height="10.600000000000009" rx="1.2" fill="#141414" stroke="#2c2c2c" stroke-width="0.5"/>
<rect x="451.0" y="66.2" width="2" height="2" fill="#d8d8d8"/>
<rect x="456.0" y="66.2" width="2" height="2" fill="#d8d8d8"/>
<rect x="450.2" y="70.3" width="8.8" height="4.7" rx="0.6" fill="#c81818"/>
<rect x="461.7" y="64.8" width="9.699999999999989" height="10.600000000000009" rx="1.2" fill="#141414" stroke="#2c2c2c" stroke-width="0.5"/>
<rect x="462.3" y="65.2" width="4.6" height="4.6" fill="#c81818"/>
<rect x="407.3" y="77.2" width="52.39999999999998" height="11.399999999999991" rx="1.2" fill="#141414" stroke="#2c2c2c" stroke-width="0.5"/>
<rect x="411" y="80.2" width="10" height="5.0" rx="1.2" fill="#161616" stroke="#3a3a3a" stroke-width="0.5"/>
<rect x="414.0" y="82.0" width="4" height="1.4" fill="#aaa"/>
<rect x="423.7" y="80.2" width="21.80000000000001" height="5.0" rx="1.2" fill="#161616" stroke="#3a3a3a" stroke-width="0.5"/>
<rect x="427.6" y="82.3" width="0.8" height="0.8" fill="#666"/>
<rect x="429.8" y="82.3" width="0.8" height="0.8" fill="#666"/>
<rect x="432.0" y="82.3" width="0.8" height="0.8" fill="#666"/>
<rect x="434.20000000000005" y="82.3" width="0.8" height="0.8" fill="#666"/>
<rect x="436.40000000000003" y="82.3" width="0.8" height="0.8" fill="#666"/>
<rect x="438.6" y="82.3" width="0.8" height="0.8" fill="#666"/>
<rect x="440.8" y="82.3" width="0.8" height="0.8" fill="#666"/>
<rect x="443.0" y="82.3" width="0.8" height="0.8" fill="#666"/>
<rect x="443.1" y="82.10000000000001" width="0.8" height="1.2" fill="#c22"/>
<circle cx="451.7" cy="84.8" r="2.5" fill="#0c0c0c" stroke="#444" stroke-width="0.5"/>
<circle cx="453.5" cy="86" r="0.6" fill="#d22"/>
<rect x="553.3" y="64.8" width="12.400000000000091" height="10.600000000000009" rx="1.2" fill="#141414" stroke="#2c2c2c" stroke-width="0.5"/>
<rect x="555.4" y="66.7" width="2" height="2" fill="#d8d8d8"/>
<rect x="560.0" y="66.7" width="2" height="2" fill="#d8d8d8"/>
<rect x="557.7" y="72.0" width="2" height="2" fill="#d8d8d8"/>
<rect x="567.3" y="64.8" width="26.40000000000009" height="10.600000000000009" rx="1.2" fill="#141414" stroke="#2c2c2c" stroke-width="0.5"/>
<rect x="571.75" y="66.8" width="2.5" height="1.4" fill="#777"/>
<rect x="575.75" y="66.8" width="2.5" height="1.4" fill="#777"/>
<rect x="579.75" y="66.8" width="2.5" height="1.4" fill="#777"/>
<rect x="583.75" y="66.8" width="2.5" height="1.4" fill="#777"/>
<rect x="573.2" y="72.2" width="1.6" height="1.6" fill="#888"/>
<rect x="577.7" y="72.2" width="1.6" height="1.6" fill="#888"/>
<rect x="582.2" y="72.2" width="1.6" height="1.6" fill="#888"/>
<rect x="586.2" y="72.2" width="1.6" height="1.6" fill="#888"/>
<rect x="596.6" y="64.8" width="9.299999999999955" height="10.600000000000009" rx="1.2" fill="#141414" stroke="#2c2c2c" stroke-width="0.5"/>
<rect x="598.1" y="66.39999999999999" width="1.8" height="1.8" fill="#d8d8d8"/>
<rect x="602.4" y="66.39999999999999" width="1.8" height="1.8" fill="#d8d8d8"/>
<rect x="598" y="71" width="7" height="3" rx="0.5" fill="#ddd"/>
<rect x="609.3" y="64.8" width="8.800000000000068" height="10.600000000000009" rx="1.2" fill="#141414" stroke="#2c2c2c" stroke-width="0.5"/>
<rect x="613.7" y="65.2" width="4.2" height="4.4" fill="#c81818"/>
<rect x="610.8" y="71.8" width="1.4" height="1.4" fill="#666"/>
<rect x="615.3" y="71.8" width="1.4" height="1.4" fill="#888"/>
<rect x="400.3" y="91" width="56" height="21" rx="1" fill="#121212" stroke="#2a2a2a" stroke-width="0.5"/>
<line x1="450.3" y1="91.5" x2="450.3" y2="111.5" stroke="#262626" stroke-width="0.4"/>
<text x="401.8" y="95" font-size="3.0" fill="#2a7fd0" text-anchor="start" font-weight="normal" opacity="1" textLength="31" lengthAdjust="spacingAndGlyphs">HLP-Electrofied_Bass01</text>
<text x="448.3" y="95" font-size="3.0" fill="#2a7fd0" text-anchor="end" font-weight="normal" opacity="1" textLength="10" lengthAdjust="spacingAndGlyphs">125.00</text>
<rect x="401.1" y="96.2" width="42" height="6.3" fill="#0d0d0d"/>
<rect x="401.2" y="96.2" width="1.1" height="6.3" fill="#2c2"/>
<ellipse cx="404.5" cy="99.6" rx="1.9" ry="1.2" fill="#1c74c4"/>
<ellipse cx="409.3" cy="99.6" rx="1.9" ry="1.2" fill="#1c74c4"/>
<ellipse cx="414.1" cy="99.6" rx="1.9" ry="1.2" fill="#1c74c4"/>
<ellipse cx="418.9" cy="99.6" rx="1.9" ry="1.2" fill="#1c74c4"/>
<ellipse cx="423.7" cy="99.6" rx="1.9" ry="1.2" fill="#1c74c4"/>
<ellipse cx="428.5" cy="99.6" rx="1.9" ry="1.2" fill="#1c74c4"/>
<ellipse cx="433.3" cy="99.6" rx="1.9" ry="1.2" fill="#1c74c4"/>
<ellipse cx="438.1" cy="99.6" rx="1.9" ry="1.2" fill="#1c74c4"/>
<rect x="444.05" y="96.75" width="1.5" height="1.5" fill="#555"/>
<rect x="446.05" y="100.75" width="1.5" height="1.5" fill="#555"/>
<rect x="451.6" y="91.5" width="4.2" height="20" rx="1" fill="#161616" stroke="#333" stroke-width="0.4"/>
<rect x="451.90000000000003" y="101.4" width="3.6" height="0.7" fill="#a33"/>
<circle cx="404.3" cy="108" r="1.7" fill="#0a0a0a"/>
<rect x="403.6" y="107.3" width="1.4" height="1.4" fill="#bbb"/>
<circle cx="417.3" cy="108" r="1.7" fill="#0a0a0a"/>
<rect x="416.6" y="107.3" width="1.4" height="1.4" fill="#bbb"/>
<circle cx="422.1" cy="108" r="1.7" fill="#0a0a0a"/>
<rect x="421.40000000000003" y="107.3" width="1.4" height="1.4" fill="#bbb"/>
<circle cx="426.6" cy="108" r="1.7" fill="#0a0a0a"/>
<rect x="425.90000000000003" y="107.3" width="1.4" height="1.4" fill="#bbb"/>
<circle cx="431.3" cy="108" r="1.7" fill="#0a0a0a"/>
<rect x="430.6" y="107.3" width="1.4" height="1.4" fill="#bbb"/>
<rect x="436.7" y="106.9" width="2.2" height="2.2" fill="#666"/>
<circle cx="444.3" cy="108" r="2.3" fill="#0c0c0c" stroke="#444" stroke-width="0.5"/>
<rect x="443.7" y="105" width="1.3" height="1.3" fill="#d22"/>
<rect x="456.7" y="91" width="56" height="21" rx="1" fill="#121212" stroke="#2a2a2a" stroke-width="0.5"/>
<line x1="506.7" y1="91.5" x2="506.7" y2="111.5" stroke="#262626" stroke-width="0.4"/>
<text x="458.2" y="95" font-size="3.0" fill="#2a7fd0" text-anchor="start" font-weight="normal" opacity="1" textLength="29" lengthAdjust="spacingAndGlyphs">Clb_Fraids_Scratch_02</text>
<text x="504.7" y="95" font-size="3.0" fill="#2a7fd0" text-anchor="end" font-weight="normal" opacity="1" textLength="10" lengthAdjust="spacingAndGlyphs">160.00</text>
<rect x="457.5" y="96.2" width="42" height="6.3" fill="#0d0d0d"/>
<rect x="457.59999999999997" y="96.2" width="1.1" height="6.3" fill="#2c2"/>
<rect x="458.2" y="98.5" width="4.0" height="2.2" rx="0.6" fill="#1c74c4"/>
<rect x="463.2" y="97.8" width="1.0" height="3.6" rx="0.6" fill="#1c74c4"/>
<rect x="464.7" y="98.39999999999999" width="4.5" height="2.4" rx="0.6" fill="#1c74c4"/>
<rect x="474.2" y="98.5" width="4.5" height="2.2" rx="0.6" fill="#1c74c4"/>
<rect x="484.2" y="98.5" width="3.5" height="2.2" rx="0.6" fill="#1c74c4"/>
<rect x="491.7" y="98.6" width="2" height="2" rx="0.6" fill="#1c74c4"/>
<rect x="500.45" y="96.75" width="1.5" height="1.5" fill="#555"/>
<rect x="502.45" y="100.75" width="1.5" height="1.5" fill="#555"/>
<rect x="508.0" y="91.5" width="4.2" height="20" rx="1" fill="#161616" stroke="#333" stroke-width="0.4"/>
<rect x="508.3" y="101.4" width="3.6" height="0.7" fill="#a33"/>
<circle cx="460.7" cy="108" r="1.7" fill="#0a0a0a"/>
<rect x="460.0" y="107.3" width="1.4" height="1.4" fill="#bbb"/>
<rect x="471.7" y="106" width="4" height="4" fill="#c81818"/>
<circle cx="478.5" cy="108" r="1.7" fill="#0a0a0a"/>
<rect x="477.8" y="107.3" width="1.4" height="1.4" fill="#bbb"/>
<rect x="481.0" y="106" width="4" height="4" fill="#c81818"/>
<rect x="485.7" y="106" width="4" height="4" fill="#c81818"/>
<rect x="493.09999999999997" y="106.9" width="2.2" height="2.2" fill="#666"/>
<circle cx="500.7" cy="108" r="2.3" fill="#0c0c0c" stroke="#444" stroke-width="0.5"/>
<rect x="500.09999999999997" y="105" width="1.3" height="1.3" fill="#d22"/>
<rect x="513" y="91" width="56" height="21" rx="1" fill="#121212" stroke="#2a2a2a" stroke-width="0.5"/>
<line x1="563" y1="91.5" x2="563" y2="111.5" stroke="#262626" stroke-width="0.4"/>
<text x="514.5" y="95" font-size="3.0" fill="#2a7fd0" text-anchor="start" font-weight="normal" opacity="1" textLength="29" lengthAdjust="spacingAndGlyphs">HLP_Tandem Synth 08</text>
<text x="561" y="95" font-size="3.0" fill="#2a7fd0" text-anchor="end" font-weight="normal" opacity="1" textLength="10" lengthAdjust="spacingAndGlyphs">0.00</text>
<rect x="513.8" y="96.2" width="42" height="6.3" fill="#0d0d0d"/>
<rect x="513.9" y="96.2" width="1.1" height="6.3" fill="#2c2"/>
<rect x="515" y="98.5" width="5" height="2.2" rx="0.6" fill="#1c74c4"/>
<rect x="524" y="98.5" width="5" height="2.2" rx="0.6" fill="#1c74c4"/>
<rect x="532.5" y="98.39999999999999" width="5.0" height="2.4" rx="0.6" fill="#1c74c4"/>
<rect x="540.5" y="98.5" width="5.5" height="2.2" rx="0.6" fill="#1c74c4"/>
<rect x="546" y="98.6" width="4" height="2" rx="0.6" fill="#1c74c4"/>
<rect x="556.75" y="96.75" width="1.5" height="1.5" fill="#555"/>
<rect x="558.75" y="100.75" width="1.5" height="1.5" fill="#555"/>
<rect x="564.3" y="91.5" width="4.2" height="20" rx="1" fill="#161616" stroke="#333" stroke-width="0.4"/>
<rect x="564.6" y="101.4" width="3.6" height="0.7" fill="#a33"/>
<circle cx="517" cy="108" r="1.7" fill="#0a0a0a"/>
<rect x="516.3" y="107.3" width="1.4" height="1.4" fill="#bbb"/>
<circle cx="530" cy="108" r="1.7" fill="#0a0a0a"/>
<rect x="529.3" y="107.3" width="1.4" height="1.4" fill="#bbb"/>
<circle cx="534.8" cy="108" r="1.7" fill="#0a0a0a"/>
<rect x="534.0999999999999" y="107.3" width="1.4" height="1.4" fill="#bbb"/>
<circle cx="539.3" cy="108" r="1.7" fill="#0a0a0a"/>
<rect x="538.5999999999999" y="107.3" width="1.4" height="1.4" fill="#bbb"/>
<circle cx="544" cy="108" r="1.7" fill="#0a0a0a"/>
<rect x="543.3" y="107.3" width="1.4" height="1.4" fill="#bbb"/>
<rect x="549.4" y="106.9" width="2.2" height="2.2" fill="#666"/>
<circle cx="557" cy="108" r="2.3" fill="#0c0c0c" stroke="#444" stroke-width="0.5"/>
<rect x="556.4" y="105" width="1.3" height="1.3" fill="#d22"/>
<rect x="569.5" y="91" width="56" height="21" rx="1" fill="#121212" stroke="#2a2a2a" stroke-width="0.5"/>
<line x1="619.5" y1="91.5" x2="619.5" y2="111.5" stroke="#262626" stroke-width="0.4"/>
<text x="571.0" y="95" font-size="3.0" fill="#2a7fd0" text-anchor="start" font-weight="normal" opacity="1" textLength="10" lengthAdjust="spacingAndGlyphs">Ambient</text>
<text x="617.5" y="95" font-size="3.0" fill="#2a7fd0" text-anchor="end" font-weight="normal" opacity="1" textLength="10" lengthAdjust="spacingAndGlyphs">95.00</text>
<rect x="570.3" y="96.2" width="42" height="6.3" fill="#0d0d0d"/>
<rect x="570.4" y="96.2" width="1.1" height="6.3" fill="#2c2"/>
<rect x="572.5" y="98.69999999999999" width="4" height="1.8" rx="0.6" fill="#1c74c4"/>
<rect x="577.5" y="98.0" width="1.5" height="3.2" rx="0.6" fill="#1c74c4"/>
<rect x="580.0" y="98.69999999999999" width="3.5" height="1.8" rx="0.6" fill="#1c74c4"/>
<rect x="585.0" y="98.69999999999999" width="5.5" height="1.8" rx="0.6" fill="#1c74c4"/>
<rect x="591.0" y="98.5" width="5.5" height="2.2" rx="0.6" fill="#1c74c4"/>
<rect x="597.0" y="98.1" width="2.5" height="3.0" rx="0.6" fill="#1c74c4"/>
<rect x="599.5" y="98.6" width="4" height="2" rx="0.6" fill="#1c74c4"/>
<rect x="613.25" y="96.75" width="1.5" height="1.5" fill="#555"/>
<rect x="615.25" y="100.75" width="1.5" height="1.5" fill="#555"/>
<rect x="620.8" y="91.5" width="4.2" height="20" rx="1" fill="#161616" stroke="#333" stroke-width="0.4"/>
<rect x="621.1" y="101.4" width="3.6" height="0.7" fill="#a33"/>
<circle cx="573.5" cy="108" r="1.7" fill="#0a0a0a"/>
<rect x="572.8" y="107.3" width="1.4" height="1.4" fill="#bbb"/>
<circle cx="586.5" cy="108" r="1.7" fill="#0a0a0a"/>
<rect x="585.8" y="107.3" width="1.4" height="1.4" fill="#bbb"/>
<circle cx="591.3" cy="108" r="1.7" fill="#0a0a0a"/>
<rect x="590.5999999999999" y="107.3" width="1.4" height="1.4" fill="#bbb"/>
<circle cx="595.8" cy="108" r="1.7" fill="#0a0a0a"/>
<rect x="595.0999999999999" y="107.3" width="1.4" height="1.4" fill="#bbb"/>
<circle cx="600.5" cy="108" r="1.7" fill="#0a0a0a"/>
<rect x="599.8" y="107.3" width="1.4" height="1.4" fill="#bbb"/>
<rect x="605.9" y="106.9" width="2.2" height="2.2" fill="#666"/>
<circle cx="613.5" cy="108" r="2.3" fill="#0c0c0c" stroke="#444" stroke-width="0.5"/>
<rect x="612.9" y="105" width="1.3" height="1.3" fill="#d22"/>
<rect x="463.0" y="96.2" width="1.1" height="6.5" fill="#2c2"/>
<rect x="483.0" y="96.2" width="1.1" height="6.5" fill="#2c2"/>
<rect x="491.2" y="96.2" width="1.1" height="6.5" fill="#2c2"/>
<circle cx="498" cy="98" r="1.8" fill="#3c3"/>
<rect x="383.4" y="114.5" width="36.5" height="65.5" fill="#0e0e0e"/>
<rect x="383.8" y="115" width="35.5" height="4.4" fill="#0a0a0a" stroke="#333" stroke-width="0.4"/>
<text x="384.6" y="118.4" font-size="2.8" fill="#999" text-anchor="start" font-weight="normal" opacity="1" textLength="10" lengthAdjust="spacingAndGlyphs">search...</text>
<rect x="383.5" y="121.1" width="36.2" height="3.4" fill="#d8caa8"/>
<text x="391.3" y="123.8" font-size="2.8" fill="#444" text-anchor="start" font-weight="normal" opacity="1" textLength="9" lengthAdjust="spacingAndGlyphs">Library</text>
<rect x="388" y="121.6" width="2.2" height="2.3" fill="#e8741e"/>
<rect x="387.6" y="125.5" width="2.4" height="2.2" fill="#e8741e"/>
<text x="391.4" y="128.6" font-size="2.8" fill="#7d7d7d" text-anchor="start" font-weight="normal" opacity="1" textLength="9" lengthAdjust="spacingAndGlyphs">AutoDJ</text>
<rect x="387.6" y="129.42" width="2.4" height="2.2" fill="#e8741e"/>
<text x="391.4" y="132.51999999999998" font-size="2.8" fill="#7d7d7d" text-anchor="start" font-weight="normal" opacity="1" textLength="10" lengthAdjust="spacingAndGlyphs">Playlists</text>
<rect x="387.6" y="133.34" width="2.4" height="2.2" fill="#e8741e"/>
<text x="391.4" y="136.44" font-size="2.8" fill="#7d7d7d" text-anchor="start" font-weight="normal" opacity="1" textLength="8" lengthAdjust="spacingAndGlyphs">Crates</text>
<text x="391.4" y="140.35999999999999" font-size="2.8" fill="#7d7d7d" text-anchor="start" font-weight="normal" opacity="1" textLength="9.5" lengthAdjust="spacingAndGlyphs">NEW BAL</text>
<text x="391.4" y="144.28" font-size="2.8" fill="#7d7d7d" text-anchor="start" font-weight="normal" opacity="1" textLength="8" lengthAdjust="spacingAndGlyphs">Plugins</text>
<text x="391.4" y="148.2" font-size="2.8" fill="#7d7d7d" text-anchor="start" font-weight="normal" opacity="1" textLength="7" lengthAdjust="spacingAndGlyphs">Backs</text>
<rect x="387.6" y="149.02" width="2.4" height="2.2" fill="#e8741e"/>
<text x="391.4" y="152.12" font-size="2.8" fill="#7d7d7d" text-anchor="start" font-weight="normal" opacity="1" textLength="9" lengthAdjust="spacingAndGlyphs">Browse</text>
<rect x="387.6" y="152.94" width="2.4" height="2.2" fill="#e8741e"/>
<text x="391.4" y="156.04" font-size="2.8" fill="#7d7d7d" text-anchor="start" font-weight="normal" opacity="1" textLength="13" lengthAdjust="spacingAndGlyphs">Recordings</text>
<rect x="387.6" y="156.85999999999999" width="2.4" height="2.2" fill="#e8741e"/>
<text x="391.4" y="159.95999999999998" font-size="2.8" fill="#7d7d7d" text-anchor="start" font-weight="normal" opacity="1" textLength="10" lengthAdjust="spacingAndGlyphs">Analyze</text>
<rect x="387.6" y="160.78" width="2.4" height="2.2" fill="#e8741e"/>
<text x="391.4" y="163.88" font-size="2.8" fill="#7d7d7d" text-anchor="start" font-weight="normal" opacity="1" textLength="14" lengthAdjust="spacingAndGlyphs">iTunes/Other</text>
<rect x="384.05" y="126.14999999999999" width="1.3" height="1.3" fill="#777"/>
<rect x="384.05" y="138.54999999999998" width="1.3" height="1.3" fill="#777"/>
<rect x="384.05" y="150.35" width="1.3" height="1.3" fill="#777"/>
<rect x="421" y="114.8" width="221" height="9.8" fill="#d7ccb0"/>
<rect x="421" y="114.8" width="221" height="5" fill="#cfc3a6"/>
<line x1="421" y1="119.8" x2="642" y2="119.8" stroke="#b9ae94" stroke-width="0.4"/>
<text x="426" y="118.5" font-size="2.6" fill="#5a5240" text-anchor="start" font-weight="normal" opacity="1" textLength="7.3" lengthAdjust="spacingAndGlyphs">Preview</text>
<text x="449.2" y="118.5" font-size="2.6" fill="#5a5240" text-anchor="start" font-weight="normal" opacity="1" textLength="6" lengthAdjust="spacingAndGlyphs">Artist</text>
<text x="498" y="118.5" font-size="2.6" fill="#5a5240" text-anchor="start" font-weight="normal" opacity="1" textLength="5" lengthAdjust="spacingAndGlyphs">Title</text>
<text x="538.9" y="118.5" font-size="2.6" fill="#5a5240" text-anchor="start" font-weight="normal" opacity="1" textLength="7" lengthAdjust="spacingAndGlyphs">Album</text>
<text x="558.5" y="118.5" font-size="2.6" fill="#5a5240" text-anchor="start" font-weight="normal" opacity="1" textLength="9.8" lengthAdjust="spacingAndGlyphs">Duration</text>
<text x="578" y="118.5" font-size="2.6" fill="#5a5240" text-anchor="start" font-weight="normal" opacity="1" textLength="7.3" lengthAdjust="spacingAndGlyphs">Rating</text>
<text x="596.8" y="118.5" font-size="2.6" fill="#5a5240" text-anchor="start" font-weight="normal" opacity="1" textLength="5.4" lengthAdjust="spacingAndGlyphs">BPM</text>
<text x="615.2" y="118.5" font-size="2.6" fill="#5a5240" text-anchor="start" font-weight="normal" opacity="1" textLength="5.4" lengthAdjust="spacingAndGlyphs">Year</text>
<text x="632.5" y="118.5" font-size="2.6" fill="#5a5240" text-anchor="start" font-weight="normal" opacity="1" textLength="6.3" lengthAdjust="spacingAndGlyphs">Genre</text>
<path d="M467.5,116.6 L469,116.6 L468.25,117.8 Z" fill="#5a5240"/>
<text x="438" y="123.4" font-size="2.6" fill="#6a5e48" text-anchor="start" font-weight="normal" opacity="1" textLength="22" lengthAdjust="spacingAndGlyphs">Chemical Brothers</text>
<text x="471" y="123.4" font-size="2.6" fill="#6a5e48" text-anchor="start" font-weight="normal" opacity="1" textLength="13" lengthAdjust="spacingAndGlyphs">Block Rockin</text>
<text x="531" y="123.4" font-size="2.6" fill="#6a5e48" text-anchor="start" font-weight="normal" opacity="1" textLength="19" lengthAdjust="spacingAndGlyphs">Artist &amp; Album</text>
<text x="555" y="123.4" font-size="2.6" fill="#6a5e48" text-anchor="start" font-weight="normal" opacity="1" textLength="5.5" lengthAdjust="spacingAndGlyphs">05:07</text>
<text x="591.4" y="123.4" font-size="2.6" fill="#6a5e48" text-anchor="start" font-weight="normal" opacity="1" textLength="14" lengthAdjust="spacingAndGlyphs">125.74</text>
<text x="609" y="123.4" font-size="2.6" fill="#6a5e48" text-anchor="start" font-weight="normal" opacity="1" textLength="6" lengthAdjust="spacingAndGlyphs">2008</text>
<text x="627.2" y="123.4" font-size="2.6" fill="#6a5e48" text-anchor="start" font-weight="normal" opacity="1" textLength="11" lengthAdjust="spacingAndGlyphs">Electronic</text>
<rect x="421.3" y="120.6" width="1.8" height="3" fill="#e8741e"/>
<rect x="421.5" y="124.6" width="216" height="4.11" fill="#141414"/>
<text x="424.3" y="127.8" font-size="2.7" fill="#7f8a93" text-anchor="start" font-weight="normal" opacity="1" textLength="3" lengthAdjust="spacingAndGlyphs">nl</text>
<text x="438" y="127.8" font-size="2.7" fill="#7f8a93" text-anchor="start" font-weight="normal" opacity="1" textLength="22" lengthAdjust="spacingAndGlyphs">Chemical Brothers</text>
<text x="471" y="127.8" font-size="2.7" fill="#7f8a93" text-anchor="start" font-weight="normal" opacity="1" textLength="17" lengthAdjust="spacingAndGlyphs">Radio Magazine</text>
<text x="531" y="127.8" font-size="2.7" fill="#7f8a93" text-anchor="start" font-weight="normal" opacity="1" textLength="12" lengthAdjust="spacingAndGlyphs">Surrender</text>
<text x="555" y="127.8" font-size="2.7" fill="#7f8a93" text-anchor="start" font-weight="normal" opacity="1" textLength="5.5" lengthAdjust="spacingAndGlyphs">04:27</text>
<rect x="574.0" y="126.39999999999999" width="0.6" height="0.6" fill="#666"/>
<rect x="577.0" y="126.39999999999999" width="0.6" height="0.6" fill="#666"/>
<rect x="580.0" y="126.39999999999999" width="0.6" height="0.6" fill="#666"/>
<rect x="583.0" y="126.39999999999999" width="0.6" height="0.6" fill="#666"/>
<rect x="586.0" y="126.39999999999999" width="0.6" height="0.6" fill="#666"/>
<text x="591.4" y="127.8" font-size="2.7" fill="#7f8a93" text-anchor="start" font-weight="normal" opacity="1" textLength="14.5" lengthAdjust="spacingAndGlyphs">127.8928998</text>
<text x="609" y="127.8" font-size="2.7" fill="#7f8a93" text-anchor="start" font-weight="normal" opacity="1" textLength="11.5" lengthAdjust="spacingAndGlyphs">Sampler</text>
<text x="627.2" y="127.8" font-size="2.7" fill="#5b8bbf" text-anchor="start" font-weight="normal" opacity="1" textLength="11" lengthAdjust="spacingAndGlyphs">Electronic</text>
<rect x="422" y="125.5" width="2.1" height="2.5" fill="#e8741e"/>
<rect x="421.5" y="128.71" width="216" height="4.11" fill="#0c0c0c"/>
<text x="424.3" y="131.91" font-size="2.7" fill="#7f8a93" text-anchor="start" font-weight="normal" opacity="1" textLength="3" lengthAdjust="spacingAndGlyphs">nl</text>
<text x="438" y="131.91" font-size="2.7" fill="#7f8a93" text-anchor="start" font-weight="normal" opacity="1" textLength="22" lengthAdjust="spacingAndGlyphs">Chemical Brothers</text>
<text x="471" y="131.91" font-size="2.7" fill="#7f8a93" text-anchor="start" font-weight="normal" opacity="1" textLength="15" lengthAdjust="spacingAndGlyphs">Out of Control</text>
<text x="531" y="131.91" font-size="2.7" fill="#7f8a93" text-anchor="start" font-weight="normal" opacity="1" textLength="12" lengthAdjust="spacingAndGlyphs">Surrender</text>
<text x="555" y="131.91" font-size="2.7" fill="#7f8a93" text-anchor="start" font-weight="normal" opacity="1" textLength="5.5" lengthAdjust="spacingAndGlyphs">07:14</text>
<rect x="573.3" y="129.81" width="2" height="2" fill="#d0d0d0"/>
<rect x="576.3" y="129.81" width="2" height="2" fill="#d0d0d0"/>
<rect x="579.3" y="129.81" width="2" height="2" fill="#d0d0d0"/>
<rect x="582.3" y="129.81" width="2" height="2" fill="#d0d0d0"/>
<text x="591.4" y="131.91" font-size="2.7" fill="#7f8a93" text-anchor="start" font-weight="normal" opacity="1" textLength="14.5" lengthAdjust="spacingAndGlyphs">123.8737924</text>
<text x="609" y="131.91" font-size="2.7" fill="#7f8a93" text-anchor="start" font-weight="normal" opacity="1" textLength="11.5" lengthAdjust="spacingAndGlyphs">Sampler</text>
<text x="627.2" y="131.91" font-size="2.7" fill="#5b8bbf" text-anchor="start" font-weight="normal" opacity="1" textLength="11" lengthAdjust="spacingAndGlyphs">Electronic</text>
<rect x="422" y="129.61" width="2.1" height="2.5" fill="#e8741e"/>
<rect x="421.5" y="132.82" width="216" height="4.11" fill="#141414"/>
<text x="424.3" y="136.01999999999998" font-size="2.7" fill="#7f8a93" text-anchor="start" font-weight="normal" opacity="1" textLength="3" lengthAdjust="spacingAndGlyphs">nl</text>
<text x="438" y="136.01999999999998" font-size="2.7" fill="#7f8a93" text-anchor="start" font-weight="normal" opacity="1" textLength="22" lengthAdjust="spacingAndGlyphs">Chemical Brothers</text>
<text x="471" y="136.01999999999998" font-size="2.7" fill="#7f8a93" text-anchor="start" font-weight="normal" opacity="1" textLength="14" lengthAdjust="spacingAndGlyphs">Orange Wedge</text>
<text x="531" y="136.01999999999998" font-size="2.7" fill="#7f8a93" text-anchor="start" font-weight="normal" opacity="1" textLength="12" lengthAdjust="spacingAndGlyphs">Surrender</text>
<text x="555" y="136.01999999999998" font-size="2.7" fill="#7f8a93" text-anchor="start" font-weight="normal" opacity="1" textLength="5.5" lengthAdjust="spacingAndGlyphs">05:48</text>
<rect x="573.3" y="133.92" width="2" height="2" fill="#d0d0d0"/>
<rect x="576.3" y="133.92" width="2" height="2" fill="#d0d0d0"/>
<rect x="579.3" y="133.92" width="2" height="2" fill="#d0d0d0"/>
<rect x="582.3" y="133.92" width="2" height="2" fill="#d0d0d0"/>
<text x="591.4" y="136.01999999999998" font-size="2.7" fill="#7f8a93" text-anchor="start" font-weight="normal" opacity="1" textLength="13.5" lengthAdjust="spacingAndGlyphs">128.744621</text>
<text x="609" y="136.01999999999998" font-size="2.7" fill="#7f8a93" text-anchor="start" font-weight="normal" opacity="1" textLength="11.5" lengthAdjust="spacingAndGlyphs">Sampler</text>
<text x="627.2" y="136.01999999999998" font-size="2.7" fill="#5b8bbf" text-anchor="start" font-weight="normal" opacity="1" textLength="11" lengthAdjust="spacingAndGlyphs">Electronic</text>
<rect x="422" y="133.72" width="2.1" height="2.5" fill="#e8741e"/>
<rect x="421.5" y="136.93" width="216" height="4.11" fill="#0c0c0c"/>
<text x="424.3" y="140.13" font-size="2.7" fill="#7f8a93" text-anchor="start" font-weight="normal" opacity="1" textLength="3" lengthAdjust="spacingAndGlyphs">nl</text>
<text x="438" y="140.13" font-size="2.7" fill="#7f8a93" text-anchor="start" font-weight="normal" opacity="1" textLength="22" lengthAdjust="spacingAndGlyphs">Chemical Brothers</text>
<text x="471" y="140.13" font-size="2.7" fill="#7f8a93" text-anchor="start" font-weight="normal" opacity="1" textLength="14" lengthAdjust="spacingAndGlyphs">Let Forever Be</text>
<text x="531" y="140.13" font-size="2.7" fill="#7f8a93" text-anchor="start" font-weight="normal" opacity="1" textLength="12" lengthAdjust="spacingAndGlyphs">Surrender</text>
<text x="555" y="140.13" font-size="2.7" fill="#7f8a93" text-anchor="start" font-weight="normal" opacity="1" textLength="5.5" lengthAdjust="spacingAndGlyphs">05:57</text>
<rect x="573.3" y="138.03" width="2" height="2" fill="#d0d0d0"/>
<rect x="576.3" y="138.03" width="2" height="2" fill="#d0d0d0"/>
<rect x="579.3" y="138.03" width="2" height="2" fill="#d0d0d0"/>
<rect x="582.3" y="138.03" width="2" height="2" fill="#d0d0d0"/>
<rect x="585.3" y="138.03" width="2" height="2" fill="#d0d0d0"/>
<text x="591.4" y="140.13" font-size="2.7" fill="#7f8a93" text-anchor="start" font-weight="normal" opacity="1" textLength="10.8" lengthAdjust="spacingAndGlyphs">127.0597</text>
<text x="609" y="140.13" font-size="2.7" fill="#7f8a93" text-anchor="start" font-weight="normal" opacity="1" textLength="11.5" lengthAdjust="spacingAndGlyphs">Sampler</text>
<text x="627.2" y="140.13" font-size="2.7" fill="#5b8bbf" text-anchor="start" font-weight="normal" opacity="1" textLength="11" lengthAdjust="spacingAndGlyphs">Electronic</text>
<rect x="422" y="137.83" width="2.1" height="2.5" fill="#e8741e"/>
<rect x="421.5" y="141.04" width="216" height="4.11" fill="#141414"/>
<text x="424.3" y="144.23999999999998" font-size="2.7" fill="#7f8a93" text-anchor="start" font-weight="normal" opacity="1" textLength="3" lengthAdjust="spacingAndGlyphs">nl</text>
<text x="438" y="144.23999999999998" font-size="2.7" fill="#7f8a93" text-anchor="start" font-weight="normal" opacity="1" textLength="22" lengthAdjust="spacingAndGlyphs">Chemical Brothers</text>
<text x="471" y="144.23999999999998" font-size="2.7" fill="#7f8a93" text-anchor="start" font-weight="normal" opacity="1" textLength="30" lengthAdjust="spacingAndGlyphs">The Private Psychedelic Reel</text>
<text x="531" y="144.23999999999998" font-size="2.7" fill="#7f8a93" text-anchor="start" font-weight="normal" opacity="1" textLength="12" lengthAdjust="spacingAndGlyphs">Surrender</text>
<text x="555" y="144.23999999999998" font-size="2.7" fill="#7f8a93" text-anchor="start" font-weight="normal" opacity="1" textLength="5.5" lengthAdjust="spacingAndGlyphs">09:18</text>
<rect x="573.3" y="142.14" width="2" height="2" fill="#d0d0d0"/>
<rect x="576.3" y="142.14" width="2" height="2" fill="#d0d0d0"/>
<rect x="579.3" y="142.14" width="2" height="2" fill="#d0d0d0"/>
<rect x="582.3" y="142.14" width="2" height="2" fill="#d0d0d0"/>
<rect x="585.3" y="142.14" width="2" height="2" fill="#d0d0d0"/>
<text x="591.4" y="144.23999999999998" font-size="2.7" fill="#7f8a93" text-anchor="start" font-weight="normal" opacity="1" textLength="14.5" lengthAdjust="spacingAndGlyphs">129.7768367</text>
<text x="609" y="144.23999999999998" font-size="2.7" fill="#7f8a93" text-anchor="start" font-weight="normal" opacity="1" textLength="11.5" lengthAdjust="spacingAndGlyphs">Sampler</text>
<text x="627.2" y="144.23999999999998" font-size="2.7" fill="#5b8bbf" text-anchor="start" font-weight="normal" opacity="1" textLength="11" lengthAdjust="spacingAndGlyphs">Electronic</text>
<rect x="422" y="141.94" width="2.1" height="2.5" fill="#e8741e"/>
<rect x="421.5" y="145.15" width="216" height="4.11" fill="#0c0c0c"/>
<text x="424.3" y="148.35" font-size="2.7" fill="#7f8a93" text-anchor="start" font-weight="normal" opacity="1" textLength="3" lengthAdjust="spacingAndGlyphs">nl</text>
<text x="438" y="148.35" font-size="2.7" fill="#7f8a93" text-anchor="start" font-weight="normal" opacity="1" textLength="22" lengthAdjust="spacingAndGlyphs">Chemical Brothers</text>
<text x="471" y="148.35" font-size="2.7" fill="#7f8a93" text-anchor="start" font-weight="normal" opacity="1" textLength="14" lengthAdjust="spacingAndGlyphs">Setting Sun</text>
<text x="531" y="148.35" font-size="2.7" fill="#7f8a93" text-anchor="start" font-weight="normal" opacity="1" textLength="12" lengthAdjust="spacingAndGlyphs">Surrender</text>
<text x="555" y="148.35" font-size="2.7" fill="#7f8a93" text-anchor="start" font-weight="normal" opacity="1" textLength="5.5" lengthAdjust="spacingAndGlyphs">05:27</text>
<rect x="574.0" y="146.95" width="0.6" height="0.6" fill="#666"/>
<rect x="577.0" y="146.95" width="0.6" height="0.6" fill="#666"/>
<rect x="580.0" y="146.95" width="0.6" height="0.6" fill="#666"/>
<rect x="583.0" y="146.95" width="0.6" height="0.6" fill="#666"/>
<rect x="586.0" y="146.95" width="0.6" height="0.6" fill="#666"/>
<text x="591.4" y="148.35" font-size="2.7" fill="#7f8a93" text-anchor="start" font-weight="normal" opacity="1" textLength="4.050000000000001" lengthAdjust="spacingAndGlyphs">176</text>
<text x="609" y="148.35" font-size="2.7" fill="#7f8a93" text-anchor="start" font-weight="normal" opacity="1" textLength="11.5" lengthAdjust="spacingAndGlyphs">Sampler</text>
<text x="627.2" y="148.35" font-size="2.7" fill="#5b8bbf" text-anchor="start" font-weight="normal" opacity="1" textLength="11" lengthAdjust="spacingAndGlyphs">Electronic</text>
<rect x="421.5" y="149.26" width="216" height="4.11" fill="#141414"/>
<text x="424.3" y="152.45999999999998" font-size="2.7" fill="#7f8a93" text-anchor="start" font-weight="normal" opacity="1" textLength="3" lengthAdjust="spacingAndGlyphs">nl</text>
<text x="438" y="152.45999999999998" font-size="2.7" fill="#7f8a93" text-anchor="start" font-weight="normal" opacity="1" textLength="22" lengthAdjust="spacingAndGlyphs">Chemical Brothers</text>
<text x="471" y="152.45999999999998" font-size="2.7" fill="#7f8a93" text-anchor="start" font-weight="normal" opacity="1" textLength="10" lengthAdjust="spacingAndGlyphs">Got Glint?</text>
<text x="531" y="152.45999999999998" font-size="2.7" fill="#7f8a93" text-anchor="start" font-weight="normal" opacity="1" textLength="12" lengthAdjust="spacingAndGlyphs">Surrender</text>
<text x="555" y="152.45999999999998" font-size="2.7" fill="#7f8a93" text-anchor="start" font-weight="normal" opacity="1" textLength="5.5" lengthAdjust="spacingAndGlyphs">05:57</text>
<rect x="574.0" y="151.05999999999997" width="0.6" height="0.6" fill="#666"/>
<rect x="577.0" y="151.05999999999997" width="0.6" height="0.6" fill="#666"/>
<rect x="580.0" y="151.05999999999997" width="0.6" height="0.6" fill="#666"/>
<rect x="583.0" y="151.05999999999997" width="0.6" height="0.6" fill="#666"/>
<rect x="586.0" y="151.05999999999997" width="0.6" height="0.6" fill="#666"/>
<text x="591.4" y="152.45999999999998" font-size="2.7" fill="#7f8a93" text-anchor="start" font-weight="normal" opacity="1" textLength="14.5" lengthAdjust="spacingAndGlyphs">102.9038091</text>
<text x="609" y="152.45999999999998" font-size="2.7" fill="#7f8a93" text-anchor="start" font-weight="normal" opacity="1" textLength="11.5" lengthAdjust="spacingAndGlyphs">Sampler</text>
<text x="627.2" y="152.45999999999998" font-size="2.7" fill="#5b8bbf" text-anchor="start" font-weight="normal" opacity="1" textLength="11" lengthAdjust="spacingAndGlyphs">Electronic</text>
<rect x="422" y="150.16" width="2.1" height="2.5" fill="#e8741e"/>
<rect x="421.5" y="153.37" width="216" height="4.11" fill="#0c0c0c"/>
<text x="424.3" y="156.57" font-size="2.7" fill="#7f8a93" text-anchor="start" font-weight="normal" opacity="1" textLength="3" lengthAdjust="spacingAndGlyphs">nl</text>
<text x="438" y="156.57" font-size="2.7" fill="#7f8a93" text-anchor="start" font-weight="normal" opacity="1" textLength="22" lengthAdjust="spacingAndGlyphs">Chemical Brothers</text>
<text x="471" y="156.57" font-size="2.7" fill="#7f8a93" text-anchor="start" font-weight="normal" opacity="1" textLength="16" lengthAdjust="spacingAndGlyphs">Hey Boy Hey Girl</text>
<text x="531" y="156.57" font-size="2.7" fill="#7f8a93" text-anchor="start" font-weight="normal" opacity="1" textLength="12" lengthAdjust="spacingAndGlyphs">Surrender</text>
<text x="555" y="156.57" font-size="2.7" fill="#7f8a93" text-anchor="start" font-weight="normal" opacity="1" textLength="5.5" lengthAdjust="spacingAndGlyphs">07:16</text>
<rect x="573.3" y="154.47" width="2" height="2" fill="#d0d0d0"/>
<rect x="576.3" y="154.47" width="2" height="2" fill="#d0d0d0"/>
<rect x="579.3" y="154.47" width="2" height="2" fill="#d0d0d0"/>
<rect x="582.3" y="154.47" width="2" height="2" fill="#d0d0d0"/>
<text x="591.4" y="156.57" font-size="2.7" fill="#7f8a93" text-anchor="start" font-weight="normal" opacity="1" textLength="10.8" lengthAdjust="spacingAndGlyphs">127.4778</text>
<text x="609" y="156.57" font-size="2.7" fill="#7f8a93" text-anchor="start" font-weight="normal" opacity="1" textLength="11.5" lengthAdjust="spacingAndGlyphs">Sampler</text>
<text x="627.2" y="156.57" font-size="2.7" fill="#5b8bbf" text-anchor="start" font-weight="normal" opacity="1" textLength="11" lengthAdjust="spacingAndGlyphs">Electronic</text>
<rect x="422" y="154.27" width="2.1" height="2.5" fill="#e8741e"/>
<rect x="421.5" y="157.48" width="216" height="4.11" fill="#141414"/>
<text x="424.3" y="160.67999999999998" font-size="2.7" fill="#7f8a93" text-anchor="start" font-weight="normal" opacity="1" textLength="3" lengthAdjust="spacingAndGlyphs">nl</text>
<text x="438" y="160.67999999999998" font-size="2.7" fill="#7f8a93" text-anchor="start" font-weight="normal" opacity="1" textLength="22" lengthAdjust="spacingAndGlyphs">Chemical Brothers</text>
<text x="471" y="160.67999999999998" font-size="2.7" fill="#7f8a93" text-anchor="start" font-weight="normal" opacity="1" textLength="12" lengthAdjust="spacingAndGlyphs">Surrender</text>
<text x="531" y="160.67999999999998" font-size="2.7" fill="#7f8a93" text-anchor="start" font-weight="normal" opacity="1" textLength="12" lengthAdjust="spacingAndGlyphs">Surrender</text>
<text x="555" y="160.67999999999998" font-size="2.7" fill="#7f8a93" text-anchor="start" font-weight="normal" opacity="1" textLength="5.5" lengthAdjust="spacingAndGlyphs">07:38</text>
<rect x="573.3" y="158.57999999999998" width="2" height="2" fill="#d0d0d0"/>
<rect x="576.3" y="158.57999999999998" width="2" height="2" fill="#d0d0d0"/>
<rect x="579.3" y="158.57999999999998" width="2" height="2" fill="#d0d0d0"/>
<rect x="582.3" y="158.57999999999998" width="2" height="2" fill="#d0d0d0"/>
<rect x="585.3" y="158.57999999999998" width="2" height="2" fill="#d0d0d0"/>
<text x="591.4" y="160.67999999999998" font-size="2.7" fill="#7f8a93" text-anchor="start" font-weight="normal" opacity="1" textLength="10.8" lengthAdjust="spacingAndGlyphs">127.0372</text>
<text x="609" y="160.67999999999998" font-size="2.7" fill="#7f8a93" text-anchor="start" font-weight="normal" opacity="1" textLength="11.5" lengthAdjust="spacingAndGlyphs">Sampler</text>
<text x="627.2" y="160.67999999999998" font-size="2.7" fill="#5b8bbf" text-anchor="start" font-weight="normal" opacity="1" textLength="11" lengthAdjust="spacingAndGlyphs">Electronic</text>
<rect x="422" y="158.38" width="2.1" height="2.5" fill="#e8741e"/>
<rect x="421.5" y="161.59" width="216" height="4.11" fill="#0c0c0c"/>
<text x="424.3" y="164.79" font-size="2.7" fill="#7f8a93" text-anchor="start" font-weight="normal" opacity="1" textLength="3" lengthAdjust="spacingAndGlyphs">nl</text>
<text x="438" y="164.79" font-size="2.7" fill="#7f8a93" text-anchor="start" font-weight="normal" opacity="1" textLength="22" lengthAdjust="spacingAndGlyphs">Chemical Brothers</text>
<text x="471" y="164.79" font-size="2.7" fill="#7f8a93" text-anchor="start" font-weight="normal" opacity="1" textLength="13" lengthAdjust="spacingAndGlyphs">Dig Your Own</text>
<text x="531" y="164.79" font-size="2.7" fill="#7f8a93" text-anchor="start" font-weight="normal" opacity="1" textLength="12" lengthAdjust="spacingAndGlyphs">Dig Your Ow</text>
<text x="555" y="164.79" font-size="2.7" fill="#7f8a93" text-anchor="start" font-weight="normal" opacity="1" textLength="5.5" lengthAdjust="spacingAndGlyphs">08:47</text>
<rect x="573.3" y="162.69" width="2" height="2" fill="#d0d0d0"/>
<rect x="576.3" y="162.69" width="2" height="2" fill="#d0d0d0"/>
<rect x="579.3" y="162.69" width="2" height="2" fill="#d0d0d0"/>
<rect x="582.3" y="162.69" width="2" height="2" fill="#d0d0d0"/>
<text x="591.4" y="164.79" font-size="2.7" fill="#7f8a93" text-anchor="start" font-weight="normal" opacity="1" textLength="9.450000000000001" lengthAdjust="spacingAndGlyphs">205.728</text>
<text x="609" y="164.79" font-size="2.7" fill="#7f8a93" text-anchor="start" font-weight="normal" opacity="1" textLength="11.5" lengthAdjust="spacingAndGlyphs">Sampler</text>
<text x="627.2" y="164.79" font-size="2.7" fill="#5b8bbf" text-anchor="start" font-weight="normal" opacity="1" textLength="11" lengthAdjust="spacingAndGlyphs">Electronic</text>
<rect x="421.5" y="165.7" width="216" height="4.11" fill="#141414"/>
<text x="424.3" y="168.89999999999998" font-size="2.7" fill="#7f8a93" text-anchor="start" font-weight="normal" opacity="1" textLength="3" lengthAdjust="spacingAndGlyphs">nl</text>
<text x="438" y="168.89999999999998" font-size="2.7" fill="#7f8a93" text-anchor="start" font-weight="normal" opacity="1" textLength="22" lengthAdjust="spacingAndGlyphs">Chemical Brothers</text>
<text x="471" y="168.89999999999998" font-size="2.7" fill="#7f8a93" text-anchor="start" font-weight="normal" opacity="1" textLength="15" lengthAdjust="spacingAndGlyphs">Electrobank</text>
<text x="531" y="168.89999999999998" font-size="2.7" fill="#7f8a93" text-anchor="start" font-weight="normal" opacity="1" textLength="12" lengthAdjust="spacingAndGlyphs">Dig Your Ow</text>
<text x="555" y="168.89999999999998" font-size="2.7" fill="#7f8a93" text-anchor="start" font-weight="normal" opacity="1" textLength="5.5" lengthAdjust="spacingAndGlyphs">06:53</text>
<rect x="574.0" y="167.49999999999997" width="0.6" height="0.6" fill="#666"/>
<rect x="577.0" y="167.49999999999997" width="0.6" height="0.6" fill="#666"/>
<rect x="580.0" y="167.49999999999997" width="0.6" height="0.6" fill="#666"/>
<rect x="583.0" y="167.49999999999997" width="0.6" height="0.6" fill="#666"/>
<rect x="586.0" y="167.49999999999997" width="0.6" height="0.6" fill="#666"/>
<text x="591.4" y="168.89999999999998" font-size="2.7" fill="#7f8a93" text-anchor="start" font-weight="normal" opacity="1" textLength="8.100000000000001" lengthAdjust="spacingAndGlyphs">109.78</text>
<text x="609" y="168.89999999999998" font-size="2.7" fill="#7f8a93" text-anchor="start" font-weight="normal" opacity="1" textLength="11.5" lengthAdjust="spacingAndGlyphs">Sampler</text>
<text x="627.2" y="168.89999999999998" font-size="2.7" fill="#5b8bbf" text-anchor="start" font-weight="normal" opacity="1" textLength="11" lengthAdjust="spacingAndGlyphs">Electronic</text>
<rect x="421.5" y="169.81" width="216" height="4.11" fill="#0c0c0c"/>
<text x="424.3" y="173.01" font-size="2.7" fill="#7f8a93" text-anchor="start" font-weight="normal" opacity="1" textLength="3" lengthAdjust="spacingAndGlyphs">nl</text>
<text x="438" y="173.01" font-size="2.7" fill="#7f8a93" text-anchor="start" font-weight="normal" opacity="1" textLength="22" lengthAdjust="spacingAndGlyphs">Chemical Brothers</text>
<text x="471" y="173.01" font-size="2.7" fill="#7f8a93" text-anchor="start" font-weight="normal" opacity="1" textLength="18" lengthAdjust="spacingAndGlyphs">Hold Tight London</text>
<text x="531" y="173.01" font-size="2.7" fill="#7f8a93" text-anchor="start" font-weight="normal" opacity="1" textLength="12" lengthAdjust="spacingAndGlyphs">Dig Your Ow</text>
<text x="555" y="173.01" font-size="2.7" fill="#7f8a93" text-anchor="start" font-weight="normal" opacity="1" textLength="5.5" lengthAdjust="spacingAndGlyphs">05:58</text>
<rect x="573.3" y="170.91" width="2" height="2" fill="#d0d0d0"/>
<rect x="576.3" y="170.91" width="2" height="2" fill="#d0d0d0"/>
<rect x="579.3" y="170.91" width="2" height="2" fill="#d0d0d0"/>
<rect x="582.3" y="170.91" width="2" height="2" fill="#d0d0d0"/>
<text x="591.4" y="173.01" font-size="2.7" fill="#7f8a93" text-anchor="start" font-weight="normal" opacity="1" textLength="9.450000000000001" lengthAdjust="spacingAndGlyphs">124.322</text>
<text x="609" y="173.01" font-size="2.7" fill="#7f8a93" text-anchor="start" font-weight="normal" opacity="1" textLength="11.5" lengthAdjust="spacingAndGlyphs">Sampler</text>
<text x="627.2" y="173.01" font-size="2.7" fill="#5b8bbf" text-anchor="start" font-weight="normal" opacity="1" textLength="11" lengthAdjust="spacingAndGlyphs">Electronic</text>
<rect x="421.5" y="173.92000000000002" width="216" height="4.11" fill="#141414"/>
<text x="424.3" y="177.12" font-size="2.7" fill="#7f8a93" text-anchor="start" font-weight="normal" opacity="1" textLength="3" lengthAdjust="spacingAndGlyphs">nl</text>
<text x="438" y="177.12" font-size="2.7" fill="#7f8a93" text-anchor="start" font-weight="normal" opacity="1" textLength="22" lengthAdjust="spacingAndGlyphs">Chemical Brothers</text>
<text x="471" y="177.12" font-size="2.7" fill="#7f8a93" text-anchor="start" font-weight="normal" opacity="1" textLength="12" lengthAdjust="spacingAndGlyphs">Galvanize</text>
<text x="531" y="177.12" font-size="2.7" fill="#7f8a93" text-anchor="start" font-weight="normal" opacity="1" textLength="12" lengthAdjust="spacingAndGlyphs">Dig Your Ow</text>
<text x="555" y="177.12" font-size="2.7" fill="#7f8a93" text-anchor="start" font-weight="normal" opacity="1" textLength="5.5" lengthAdjust="spacingAndGlyphs">06:27</text>
<rect x="573.3" y="175.02" width="2" height="2" fill="#d0d0d0"/>
<rect x="576.3" y="175.02" width="2" height="2" fill="#d0d0d0"/>
<rect x="579.3" y="175.02" width="2" height="2" fill="#d0d0d0"/>
<rect x="582.3" y="175.02" width="2" height="2" fill="#d0d0d0"/>
<rect x="585.3" y="175.02" width="2" height="2" fill="#d0d0d0"/>
<text x="591.4" y="177.12" font-size="2.7" fill="#7f8a93" text-anchor="start" font-weight="normal" opacity="1" textLength="9.450000000000001" lengthAdjust="spacingAndGlyphs">124.622</text>
<text x="609" y="177.12" font-size="2.7" fill="#7f8a93" text-anchor="start" font-weight="normal" opacity="1" textLength="11.5" lengthAdjust="spacingAndGlyphs">Sampler</text>
<text x="627.2" y="177.12" font-size="2.7" fill="#5b8bbf" text-anchor="start" font-weight="normal" opacity="1" textLength="11" lengthAdjust="spacingAndGlyphs">Electronic</text>
<rect x="637.8" y="124.6" width="4.2" height="52.5" fill="#d7ccb0"/>
<rect x="421" y="177" width="221" height="2.8" fill="#d8ccb0"/>
<rect x="421.5" y="177.3" width="142" height="2.2" fill="#efe8d8"/>
<line x1="383.5" y1="180.3" x2="420" y2="180.3" stroke="#2a2a2a" stroke-width="0.5"/>
<path d="M732.1,210 V616.2 H626.4 V602.7" fill="none" stroke="#777" stroke-width="1.1"/>
<path d="M713.5,59.8 A18.5,17.2 0 0 1 750.5,59.8" fill="#fff" stroke="#5a5a5a" stroke-width="0.8"/>
<path d="M712.6,60.2 Q731.8,56.5 751.5,60.2 L751,63.4 Q731.8,60.8 713.2,63.4 Z" fill="#fff" stroke="#5a5a5a" stroke-width="0.8"/>
<path d="M713.2,63.4 L718.7,80 M751,63.4 L745.5,80" fill="none" stroke="#5a5a5a" stroke-width="0.8"/>
<path d="M718.3,79.6 Q731.8,77 745.8,79.6 L745,84 Q731.8,81.5 719,84 Z" fill="#fff" stroke="#5a5a5a" stroke-width="0.8"/>
<path d="M719,84 L720.3,90.5 M745,84 L743.8,90.5" fill="none" stroke="#5a5a5a" stroke-width="0.8"/>
<path d="M720.3,90.5 Q731.8,89 743.8,90.5 L743.5,93 Q731.8,91.5 720.6,93 Z" fill="#fff" stroke="#5a5a5a" stroke-width="0.8"/>
<path d="M720.6,93 L724,160.3 H739.6 L743.5,93" fill="none" stroke="#5a5a5a" stroke-width="0.8"/>
<rect x="724.2" y="160.3" width="15.4" height="28.7" fill="#fff" stroke="#5a5a5a" stroke-width="0.8"/>
<path d="M726.8,189 V205.5 Q726.8,207.3 728.5,207.3 H735.3 Q737,207.3 737,205.5 V189" fill="#fff" stroke="#5a5a5a" stroke-width="0.8"/>
<path d="M728.2,207.3 V209 Q728.2,210.4 729.6,210.4 H734 Q735.4,210.4 735.4,209 V207.3" fill="#fff" stroke="#5a5a5a" stroke-width="0.8"/>
<path d="M583.8,258 V236.4 H880.8 V258 M601.7,258 V236.4 M863,258 V236.4" fill="none" stroke="#235a9c" stroke-width="1.35"/>
<path d="M578.0,259 L583.5,249.6 L589.0,259 Z" fill="#000"/>
<path d="M596.0,259 L601.5,249.6 L607.0,259 Z" fill="#000"/>
<path d="M857.1,250.3 L862.6,259.3 L868.1,250.3 Z" fill="#000"/>
<path d="M875.1,250.3 L880.6,259.3 L886.1,250.3 Z" fill="#000"/>
<path d="M577.7,267.5 V266.8 Q577.7,262.6 582.2,262.6 H586.2 Q590.7,262.6 590.7,266.8 V267.5 Z" fill="#b4b4b4" stroke="#777" stroke-width="0.6"/>
<rect x="577.7" y="267" width="13" height="30" rx="1" fill="#fff" stroke="#666" stroke-width="0.7"/>
<line x1="577.7" y1="274.5" x2="590.7" y2="274.5" stroke="#2a2a2a" stroke-width="0.9"/>
<line x1="577.7" y1="283.2" x2="590.7" y2="283.2" stroke="#2a2a2a" stroke-width="0.9"/>
<path d="M578.2,296.5 H590.2 L589.2,298.5 H579.2 Z" fill="#aaa"/>
<path d="M595,267.5 V266.8 Q595,262.6 599.5,262.6 H603.5 Q608,262.6 608,266.8 V267.5 Z" fill="#b4b4b4" stroke="#777" stroke-width="0.6"/>
<rect x="595" y="267" width="13" height="30" rx="1" fill="#d90000" stroke="#666" stroke-width="0.7"/>
<line x1="595" y1="274.5" x2="608" y2="274.5" stroke="#2a2a2a" stroke-width="0.9"/>
<line x1="595" y1="283.2" x2="608" y2="283.2" stroke="#2a2a2a" stroke-width="0.9"/>
<path d="M595.5,296.5 H607.5 L606.5,298.5 H596.5 Z" fill="#aaa"/>
<path d="M856.5,267.5 V266.8 Q856.5,262.6 861.0,262.6 H865.0 Q869.5,262.6 869.5,266.8 V267.5 Z" fill="#b4b4b4" stroke="#777" stroke-width="0.6"/>
<rect x="856.5" y="267" width="13" height="30" rx="1" fill="#fff" stroke="#666" stroke-width="0.7"/>
<line x1="856.5" y1="274.5" x2="869.5" y2="274.5" stroke="#2a2a2a" stroke-width="0.9"/>
<line x1="856.5" y1="283.2" x2="869.5" y2="283.2" stroke="#2a2a2a" stroke-width="0.9"/>
<path d="M857.0,296.5 H869.0 L868.0,298.5 H858.0 Z" fill="#aaa"/>
<path d="M874.3,267.5 V266.8 Q874.3,262.6 878.8,262.6 H882.8 Q887.3,262.6 887.3,266.8 V267.5 Z" fill="#b4b4b4" stroke="#777" stroke-width="0.6"/>
<rect x="874.3" y="267" width="13" height="30" rx="1" fill="#d90000" stroke="#666" stroke-width="0.7"/>
<line x1="874.3" y1="274.5" x2="887.3" y2="274.5" stroke="#2a2a2a" stroke-width="0.9"/>
<line x1="874.3" y1="283.2" x2="887.3" y2="283.2" stroke="#2a2a2a" stroke-width="0.9"/>
<path d="M874.8,296.5 H886.8 L885.8,298.5 H875.8 Z" fill="#aaa"/>
<rect x="333.4" y="298.8" width="360.3" height="252.2" fill="#fff" stroke="#333" stroke-width="1.1"/>
<path d="M346,305.7 H681 Q683.5,305.7 683.5,308.2 V401 L660.1,406 A62.9,62.9 0 0 0 590.6,410.70 H436.4 A62.9,62.9 0 0 0 368.0,405.89 L345,403.6 Q343.5,403.2 343.5,401 V308.2 Q343.5,305.7 346,305.7 Z" fill="none" stroke="#555" stroke-width="0.9"/>
<path d="M346,547.1 H681 Q683.5,547.1 683.5,544.6 V518.6 Q683.5,516.2 681,516.2 L659.9,515.40 A62.9,62.9 0 0 1 593.2,512.96 H433.8 A62.9,62.9 0 0 1 367.1,515.40 L346,516.2 Q343.5,516.2 343.5,518.6 V544.6 Q343.5,547.1 346,547.1 Z" fill="none" stroke="#555" stroke-width="0.9"/>
<circle cx="398.5" cy="460.79999999999995" r="57.7" fill="none" stroke="#666" stroke-width="0.8"/>
<circle cx="398.5" cy="460.79999999999995" r="47.3" fill="none" stroke="#5d6870" stroke-width="0.8"/>
<circle cx="390.1" cy="460.2" r="2.9" fill="#bdbdbd" stroke="#666" stroke-width="0.8"/>
<circle cx="404.4" cy="453.0" r="2.9" fill="#bdbdbd" stroke="#666" stroke-width="0.8"/>
<circle cx="404.4" cy="469.0" r="2.9" fill="#bdbdbd" stroke="#666" stroke-width="0.8"/>
<circle cx="628.5" cy="460.79999999999995" r="57.7" fill="none" stroke="#666" stroke-width="0.8"/>
<circle cx="628.5" cy="460.79999999999995" r="47.3" fill="none" stroke="#5d6870" stroke-width="0.8"/>
<circle cx="620.1" cy="460.2" r="2.9" fill="#bdbdbd" stroke="#666" stroke-width="0.8"/>
<circle cx="634.4" cy="453.0" r="2.9" fill="#bdbdbd" stroke="#666" stroke-width="0.8"/>
<circle cx="634.4" cy="469.0" r="2.9" fill="#bdbdbd" stroke="#666" stroke-width="0.8"/>
<rect x="367.2" y="324.4" width="15.4" height="8.2" rx="1.3" fill="#fff" stroke="#8a8a8a" stroke-width="0.9"/>
<rect x="427.1" y="324.4" width="15.3" height="8.2" rx="1.3" fill="#fff" stroke="#8a8a8a" stroke-width="0.9"/>
<rect x="367.2" y="341.5" width="15.4" height="8.2" rx="1.3" fill="#fff" stroke="#8a8a8a" stroke-width="0.9"/>
<rect x="427.1" y="341.5" width="15.3" height="8.2" rx="1.3" fill="#fff" stroke="#8a8a8a" stroke-width="0.9"/>
<rect x="367.2" y="358.3" width="15.4" height="8.2" rx="1.3" fill="#fff" stroke="#8a8a8a" stroke-width="0.9"/>
<rect x="427.1" y="358.3" width="15.3" height="8.2" rx="1.3" fill="#fff" stroke="#8a8a8a" stroke-width="0.9"/>
<circle cx="393.2" cy="327.8" r="3" fill="#bdbdbd" stroke="#666" stroke-width="0.8"/>
<circle cx="393.2" cy="339.4" r="3" fill="#bdbdbd" stroke="#666" stroke-width="0.8"/>
<circle cx="393.2" cy="351.5" r="3" fill="#bdbdbd" stroke="#666" stroke-width="0.8"/>
<circle cx="393.2" cy="363.4" r="3" fill="#bdbdbd" stroke="#666" stroke-width="0.8"/>
<rect x="409.3" y="338.3" width="8.5" height="14.8" rx="1.3" fill="#fff" stroke="#8a8a8a" stroke-width="0.9"/>
<rect x="451.3" y="338.3" width="9" height="14.8" rx="1.3" fill="#fff" stroke="#8a8a8a" stroke-width="0.9"/>
<rect x="372.4" y="382.6" width="15" height="8.6" rx="1.3" fill="#fff" stroke="#8a8a8a" stroke-width="0.9"/>
<rect x="397.3" y="382.6" width="15" height="8.6" rx="1.3" fill="#fff" stroke="#8a8a8a" stroke-width="0.9"/>
<rect x="422.3" y="382.6" width="15" height="8.6" rx="1.3" fill="#fff" stroke="#8a8a8a" stroke-width="0.9"/>
<rect x="445.9" y="391.4" width="15.4" height="8.6" rx="1.3" fill="#fff" stroke="#8a8a8a" stroke-width="0.9"/>
<line x1="354.6" y1="342.6" x2="354.6" y2="393.5" stroke="#111" stroke-width="1.6"/>
<rect x="346.3" y="363.4" width="16.6" height="10" rx="1" fill="#fff" stroke="#777" stroke-width="0.8"/>
<line x1="346.3" y1="368.4" x2="362.90000000000003" y2="368.4" stroke="#777" stroke-width="0.8"/>
<circle cx="476.9" cy="320.9" r="6.5" fill="#fff" stroke="#4d5b65" stroke-width="1.35"/>
<line x1="476.9" y1="314.4" x2="476.9" y2="319.7" stroke="#4d5b65" stroke-width="1.1"/>
<circle cx="501.4" cy="320.9" r="6.5" fill="#fff" stroke="#4d5b65" stroke-width="1.35"/>
<line x1="501.4" y1="314.4" x2="501.4" y2="319.7" stroke="#4d5b65" stroke-width="1.1"/>
<circle cx="525.6" cy="320.9" r="6.5" fill="#fff" stroke="#4d5b65" stroke-width="1.35"/>
<line x1="525.6" y1="314.4" x2="525.6" y2="319.7" stroke="#4d5b65" stroke-width="1.1"/>
<circle cx="550.1" cy="320.9" r="6.5" fill="#fff" stroke="#4d5b65" stroke-width="1.35"/>
<line x1="550.1" y1="314.4" x2="550.1" y2="319.7" stroke="#4d5b65" stroke-width="1.1"/>
<circle cx="476.9" cy="345.8" r="6.5" fill="#fff" stroke="#4d5b65" stroke-width="1.35"/>
<line x1="476.9" y1="339.3" x2="476.9" y2="344.6" stroke="#4d5b65" stroke-width="1.1"/>
<circle cx="550.1" cy="345.8" r="6.5" fill="#fff" stroke="#4d5b65" stroke-width="1.35"/>
<line x1="550.1" y1="339.3" x2="550.1" y2="344.6" stroke="#4d5b65" stroke-width="1.1"/>
<circle cx="501.4" cy="345.8" r="3" fill="#bdbdbd" stroke="#666" stroke-width="0.8"/>
<circle cx="525.6" cy="345.8" r="3" fill="#bdbdbd" stroke="#666" stroke-width="0.8"/>
<circle cx="476.9" cy="370.4" r="6.5" fill="#fff" stroke="#4d5b65" stroke-width="1.35"/>
<line x1="476.9" y1="363.9" x2="476.9" y2="369.2" stroke="#4d5b65" stroke-width="1.1"/>
<circle cx="550.1" cy="370.4" r="6.5" fill="#fff" stroke="#4d5b65" stroke-width="1.35"/>
<line x1="550.1" y1="363.9" x2="550.1" y2="369.2" stroke="#4d5b65" stroke-width="1.1"/>
<circle cx="476.9" cy="395.4" r="6.5" fill="#fff" stroke="#4d5b65" stroke-width="1.35"/>
<line x1="476.9" y1="388.9" x2="476.9" y2="394.2" stroke="#4d5b65" stroke-width="1.1"/>
<circle cx="550.1" cy="395.4" r="6.5" fill="#fff" stroke="#4d5b65" stroke-width="1.35"/>
<line x1="550.1" y1="388.9" x2="550.1" y2="394.2" stroke="#4d5b65" stroke-width="1.1"/>
<rect x="493.4" y="366.3" width="15.1" height="8.2" rx="1.3" fill="#fff" stroke="#8a8a8a" stroke-width="0.9"/>
<rect x="518.3" y="366.3" width="15.2" height="8.2" rx="1.3" fill="#fff" stroke="#8a8a8a" stroke-width="0.9"/>
<rect x="493.4" y="391.3" width="15.1" height="8.6" rx="1.3" fill="#fff" stroke="#8a8a8a" stroke-width="0.9"/>
<rect x="518.3" y="391.3" width="15.2" height="8.6" rx="1.3" fill="#fff" stroke="#8a8a8a" stroke-width="0.9"/>
<rect x="569.1" y="319.5" width="15.5" height="8.7" rx="1.3" fill="#fff" stroke="#8a8a8a" stroke-width="0.9"/>
<rect x="617.4" y="319.5" width="15.2" height="8.7" rx="1.3" fill="#fff" stroke="#8a8a8a" stroke-width="0.9"/>
<circle cx="601.4" cy="317.5" r="3" fill="#bdbdbd" stroke="#666" stroke-width="0.8"/>
<circle cx="601.4" cy="329.6" r="3" fill="#bdbdbd" stroke="#666" stroke-width="0.8"/>
<circle cx="646.1" cy="323.9" r="3" fill="#bdbdbd" stroke="#666" stroke-width="0.8"/>
<circle cx="660.1" cy="323.9" r="3" fill="#bdbdbd" stroke="#666" stroke-width="0.8"/>
<circle cx="674.7" cy="323.9" r="3" fill="#bdbdbd" stroke="#666" stroke-width="0.8"/>
<circle cx="576.9" cy="345.7" r="6.5" fill="#fff" stroke="#4d5b65" stroke-width="1.35"/>
<line x1="576.9" y1="339.2" x2="576.9" y2="344.5" stroke="#4d5b65" stroke-width="1.1"/>
<circle cx="601.8" cy="345.7" r="6.5" fill="#fff" stroke="#4d5b65" stroke-width="1.35"/>
<line x1="601.8" y1="339.2" x2="601.8" y2="344.5" stroke="#4d5b65" stroke-width="1.1"/>
<circle cx="626.7" cy="345.7" r="6.5" fill="#fff" stroke="#4d5b65" stroke-width="1.35"/>
<line x1="626.7" y1="339.2" x2="626.7" y2="344.5" stroke="#4d5b65" stroke-width="1.1"/>
<circle cx="651.8" cy="345.7" r="6.5" fill="#fff" stroke="#4d5b65" stroke-width="1.35"/>
<line x1="651.8" y1="339.2" x2="651.8" y2="344.5" stroke="#4d5b65" stroke-width="1.1"/>
<rect x="569.1" y="361.6" width="15.5" height="8.5" rx="1.3" fill="#fff" stroke="#555" stroke-width="1.1"/>
<rect x="594" y="361.6" width="15.5" height="8.5" rx="1.3" fill="#fff" stroke="#8a8a8a" stroke-width="0.9"/>
<rect x="619.3" y="361.6" width="15.5" height="8.5" rx="1.3" fill="#fff" stroke="#8a8a8a" stroke-width="0.9"/>
<rect x="644.2" y="361.6" width="15.5" height="8.5" rx="1.3" fill="#fff" stroke="#8a8a8a" stroke-width="0.9"/>
<rect x="590.1" y="382.6" width="15.5" height="8.5" rx="1.3" fill="#fff" stroke="#8a8a8a" stroke-width="0.9"/>
<rect x="615" y="382.6" width="15.5" height="8.5" rx="1.3" fill="#fff" stroke="#8a8a8a" stroke-width="0.9"/>
<rect x="639.7" y="382.6" width="15.5" height="8.5" rx="1.3" fill="#fff" stroke="#8a8a8a" stroke-width="0.9"/>
<rect x="566.5" y="391.3" width="15.3" height="8.6" rx="1.3" fill="#fff" stroke="#8a8a8a" stroke-width="0.9"/>
<line x1="672.4" y1="342.8" x2="672.4" y2="393.3" stroke="#111" stroke-width="1.6"/>
<rect x="664.1" y="363.2" width="16.6" height="10" rx="1" fill="#fff" stroke="#777" stroke-width="0.8"/>
<line x1="664.1" y1="368.2" x2="680.6999999999999" y2="368.2" stroke="#777" stroke-width="0.8"/>
<line x1="491" y1="427.4" x2="491" y2="493.7" stroke="#111" stroke-width="1.6"/>
<rect x="481.4" y="455.6" width="19.2" height="9.7" rx="1" fill="#fff" stroke="#777" stroke-width="0.8"/>
<line x1="481.4" y1="460.5" x2="500.6" y2="460.5" stroke="#777" stroke-width="0.8"/>
<line x1="535.9" y1="427.4" x2="535.9" y2="493.7" stroke="#111" stroke-width="1.6"/>
<rect x="526.3" y="455.6" width="19.2" height="9.7" rx="1" fill="#fff" stroke="#777" stroke-width="0.8"/>
<line x1="526.3" y1="460.5" x2="545.5" y2="460.5" stroke="#777" stroke-width="0.8"/>
<line x1="486.1" y1="529" x2="540.6" y2="529" stroke="#111" stroke-width="1.6"/>
<rect x="508.5" y="519.2" width="10.2" height="19.5" rx="1" fill="#fff" stroke="#777" stroke-width="0.8"/>
<line x1="513.6" y1="519.2" x2="513.6" y2="538.7" stroke="#777" stroke-width="0.8"/>
<rect x="356.8" y="530.4" width="15.3" height="8.6" rx="1.3" fill="#fff" stroke="#8a8a8a" stroke-width="0.9"/>
<rect x="381.6" y="530.4" width="15.3" height="8.6" rx="1.3" fill="#fff" stroke="#8a8a8a" stroke-width="0.9"/>
<rect x="406.3" y="530.4" width="15.3" height="8.6" rx="1.3" fill="#fff" stroke="#8a8a8a" stroke-width="0.9"/>
<rect x="431.2" y="530.4" width="15.3" height="8.6" rx="1.3" fill="#fff" stroke="#8a8a8a" stroke-width="0.9"/>
<rect x="580.7" y="530.4" width="15.3" height="8.6" rx="1.3" fill="#fff" stroke="#8a8a8a" stroke-width="0.9"/>
<rect x="605.6" y="530.4" width="15.3" height="8.6" rx="1.3" fill="#fff" stroke="#8a8a8a" stroke-width="0.9"/>
<rect x="630.3" y="530.4" width="15.3" height="8.6" rx="1.3" fill="#fff" stroke="#8a8a8a" stroke-width="0.9"/>
<rect x="655.1" y="530.4" width="15.3" height="8.6" rx="1.3" fill="#fff" stroke="#8a8a8a" stroke-width="0.9"/>
<path d="M393.6,555 Q393.6,551.3 401.90000000000003,551.3 Q410.20000000000005,551.3 410.20000000000005,555 V598 Q410.20000000000005,602.5 407.20000000000005,602.5 H396.6 Q393.6,602.5 393.6,598 Z" fill="#fff" stroke="#666" stroke-width="0.8"/>
<path d="M394.1,597 H409.70000000000005 V598.5 Q409.70000000000005,602 407.20000000000005,602 H396.6 Q394.1,602 394.1,598.5 Z" fill="#b8b8b8"/>
<line x1="393.6" y1="556.7" x2="409.90000000000003" y2="556.7" stroke="#1a1a1a" stroke-width="1.6"/>
<path d="M617.3,555 Q617.3,551.3 625.5999999999999,551.3 Q633.9,551.3 633.9,555 V598 Q633.9,602.5 630.9,602.5 H620.3 Q617.3,602.5 617.3,598 Z" fill="#fff" stroke="#666" stroke-width="0.8"/>
<path d="M617.8,597 H633.4 V598.5 Q633.4,602 630.9,602 H620.3 Q617.8,602 617.8,598.5 Z" fill="#b8b8b8"/>
<line x1="617.3" y1="556.7" x2="633.6" y2="556.7" stroke="#1a1a1a" stroke-width="1.6"/>
<path d="M800.2,304.3 L806.5,298.7 H939.3 L943.8,304.3 V549.8 H800.2 Z" fill="#fff" stroke="#444" stroke-width="1.15"/>
<line x1="800.2" y1="304.3" x2="943.8" y2="304.3" stroke="#444" stroke-width="1.2"/>
<ellipse cx="921.1" cy="326.2" rx="16" ry="6.6" transform="rotate(43 921.1 326.2)" fill="none" stroke="#555" stroke-width="0.8"/>
<circle cx="871.3" cy="363.1" r="30.9" fill="none" stroke="#555" stroke-width="0.8"/>
<circle cx="871.2" cy="362.8" r="10.6" fill="none" stroke="#555" stroke-width="1.3"/>
<circle cx="871.2" cy="344.0" r="2.7" fill="none" stroke="#555" stroke-width="0.8"/>
<circle cx="871.2" cy="382.5" r="2.7" fill="none" stroke="#555" stroke-width="0.8"/>
<circle cx="851.6" cy="362.8" r="2.7" fill="none" stroke="#555" stroke-width="0.8"/>
<circle cx="891.2" cy="362.8" r="2.7" fill="none" stroke="#555" stroke-width="0.8"/>
<circle cx="871.3" cy="467.1" r="61.7" fill="none" stroke="#555" stroke-width="0.8"/>
<circle cx="871.3" cy="467.1" r="46.3" fill="none" stroke="#555" stroke-width="0.8"/>
<circle cx="871.3" cy="467.1" r="44.2" fill="none" stroke="#555" stroke-width="0.8"/>
<circle cx="871.3" cy="467.1" r="26.2" fill="none" stroke="#555" stroke-width="0.8"/>
<circle cx="871.3" cy="467.1" r="24.1" fill="none" stroke="#555" stroke-width="0.8"/>
<g fill="none" stroke="#444" stroke-width="0.8">
<path d="M164,298.2 A81.5,81.5 0 0 0 98.3,331.5"/>
<path d="M164,305.2 A86,86 0 0 0 100.3,333.4"/>
<path d="M164,316.6 A75.6,75.6 0 0 0 107.1,342.4"/>
<path d="M98.3,331.5 L107.1,342.4"/>
<path d="M98.3,331.5 A81.5,81.5 0 0 0 81.5,383"/>
<path d="M107.1,342.4 Q98.5,358 93.8,381.5"/>
<path d="M99.6,333.8 A79.8,79.8 0 0 0 85.2,366 Q85,376 89,376.3 Q94,376.5 97.4,364"/>
<circle cx="87.4" cy="385.2" r="7.1" fill="#fff"/>
<circle cx="87.4" cy="385.2" r="5"/>
<path d="M80.8,388 L88.8,429.5 Q90.2,435 94.5,434.5 Q97.8,433.5 97.3,428.6 L90.5,392"/>
<path d="M90.8,399.1 H103.6 M86,423 V449 Q86,453.6 90.5,453.6 H100.2 V428.6 H97.3 M93.9,438.3 H100.2"/>
<path d="M105.8,389.5 Q100.4,402 100.4,420 Q100.4,450 104.2,463.8 Q106,466.5 109,465"/>
<path d="M107,389.5 Q110,387.5 114.5,389 Q108,402 108,420 Q108,452 112,466 Q110,467 108,466"/>
<path d="M114.5,389 Q118,388 121.5,390.5 Q115,404 115,422 Q115,452 118.3,465"/>
<path d="M121.5,390.5 Q124,389.5 126.5,392 Q128.5,396 128.5,402 V452 Q128.5,463 121,464.5 L112,466"/>
</g>
<g transform="translate(328,0) scale(-1,1)" fill="none" stroke="#444" stroke-width="0.8">
<path d="M164,298.2 A81.5,81.5 0 0 0 98.3,331.5"/>
<path d="M164,305.2 A86,86 0 0 0 100.3,333.4"/>
<path d="M164,316.6 A75.6,75.6 0 0 0 107.1,342.4"/>
<path d="M98.3,331.5 L107.1,342.4"/>
<path d="M98.3,331.5 A81.5,81.5 0 0 0 81.5,383"/>
<path d="M107.1,342.4 Q98.5,358 93.8,381.5"/>
<path d="M99.6,333.8 A79.8,79.8 0 0 0 85.2,366 Q85,376 89,376.3 Q94,376.5 97.4,364"/>
<circle cx="87.4" cy="385.2" r="7.1" fill="#fff"/>
<circle cx="87.4" cy="385.2" r="5"/>
<path d="M80.8,388 L88.8,429.5 Q90.2,435 94.5,434.5 Q97.8,433.5 97.3,428.6 L90.5,392"/>
<path d="M90.8,399.1 H103.6 M86,423 V449 Q86,453.6 90.5,453.6 H100.2 V428.6 H97.3 M93.9,438.3 H100.2"/>
<path d="M105.8,389.5 Q100.4,402 100.4,420 Q100.4,450 104.2,463.8 Q106,466.5 109,465"/>
<path d="M107,389.5 Q110,387.5 114.5,389 Q108,402 108,420 Q108,452 112,466 Q110,467 108,466"/>
<path d="M114.5,389 Q118,388 121.5,390.5 Q115,404 115,422 Q115,452 118.3,465"/>
<path d="M121.5,390.5 Q124,389.5 126.5,392 Q128.5,396 128.5,402 V452 Q128.5,463 121,464.5 L112,466"/>
</g>
<path d="M231.2,453.5 V463.5 Q231.2,465.3 233,465.3 H234.7 Q236.5,465.3 236.5,463.5 V453.5" fill="#fff" stroke="#667480" stroke-width="0.8"/>
<path d="M233.6,465.3 V615.6 H402.6 V602.5" fill="none" stroke="#777" stroke-width="1.1"/>
</svg></body></html>
